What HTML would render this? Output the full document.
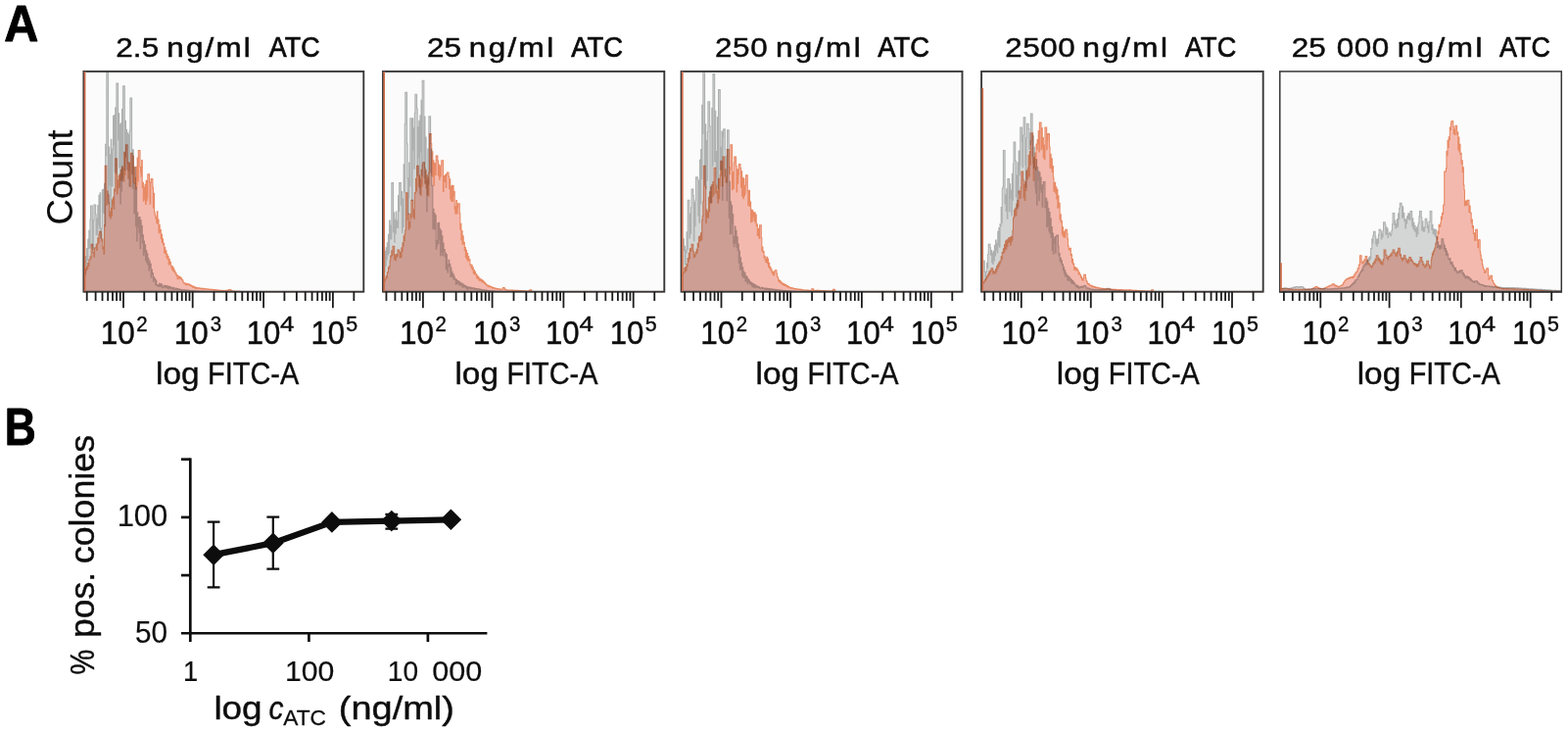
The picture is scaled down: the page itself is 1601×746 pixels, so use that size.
<!DOCTYPE html>
<html lang="en"><head><meta charset="utf-8"><title>Figure</title>
<style>html,body{margin:0;padding:0;background:#fff;}body{width:1601px;height:746px;overflow:hidden;}svg{display:block;}</style>
</head><body>
<svg width="1601" height="746" viewBox="0 0 1601 746" font-family='"Liberation Sans", Arial, Helvetica, sans-serif'>
<rect width="1601" height="746" fill="#fff"/>
<g>
<rect x="85.4" y="72.9" width="285.90" height="224.80" fill="#fbfbfb"/>
<path d="M86.40,297.70V275.6H86.96V280.6H87.52V261.5H88.08V270.4H88.64V253.5H89.20V265.7H89.76V244.2H90.32V253.4H90.88V235.4H91.44V253.0H92.00V224.0H92.56V210.0H93.12V210.0H93.68V210.0H94.24V252.5H94.81V254.8H95.37V224.6H95.93V209.1H96.49V209.1H97.05V209.1H97.61V218.9H98.17V239.7H98.73V223.1H99.29V239.3H99.85V209.5H100.41V229.1H100.97V199.2H101.53V233.0H102.09V196.8H102.65V243.5H103.21V237.9H103.77V233.1H104.33V193.8H104.89V216.8H105.45V193.4H106.01V218.0H106.57V187.4H107.13V231.0H107.69V147.4H108.25V158.9H108.81V73.9H109.37V73.9H109.93V73.9H110.50V208.0H111.06V150.1H111.62V189.2H112.18V157.7H112.74V211.2H113.30V142.2H113.86V173.7H114.42V189.9H114.98V152.2H115.54V118.3H116.10V147.6H116.66V117.6H117.22V175.8H117.78V109.9H118.34V177.0H118.90V85.0H119.46V85.0H120.02V85.0H120.58V142.8H121.14V115.7H121.70V170.8H122.26V127.2H122.82V207.9H123.38V125.9H123.94V195.0H124.50V111.5H125.06V184.8H125.62V87.8H126.19V87.8H126.75V87.8H127.31V173.7H127.87V123.3H128.43V159.0H128.99V132.4H129.55V173.3H130.11V135.8H130.67V165.8H131.23V137.2H131.79V190.2H132.35V133.9H132.91V100.0H133.47V100.0H134.03V100.0H134.59V178.2H135.15V192.1H135.71V152.9H136.27V187.0H136.83V217.7H137.39V193.8H137.95V170.7H138.51V230.8H139.07V190.8H139.63V246.0H140.19V216.9H140.75V231.4H141.31V222.1H141.88V237.1H142.44V221.6H143.00V253.6H143.56V224.7H144.12V241.6H144.68V230.4H145.24V248.0H145.80V239.8H146.36V260.4H146.92V246.1H147.48V257.4H148.04V249.9H148.60V265.6H149.16V255.5H149.72V267.9H150.28V258.8H150.84V270.3H151.40V263.8H151.96V276.0H152.52V266.3H153.08V273.1H153.64V269.3H154.20V283.2H154.76V275.1H155.32V279.5H155.88V278.8H156.44V287.2H157.00V282.8H157.57V285.5H158.13V284.5H158.69V290.6H159.25V286.3H159.81V291.3H160.37V290.5H160.93V291.7H161.49V292.4H162.05V291.3H162.61V289.4H163.17V292.1H163.73V289.7H164.29V292.5H164.85V290.1H165.41V293.0H165.97V293.7H166.53V293.5H167.09V291.2H167.65V293.3H168.21V291.5H168.77V292.5H169.33V291.5H169.89V293.8H170.45V291.9H171.01V294.1H171.57V292.3H172.13V294.7H172.69V292.4H173.26V293.8H173.82V292.7H174.38V293.8H174.94V294.7H175.50V294.4H176.06V293.3H176.62V294.9H177.18V293.6H177.74V295.3H178.30V295.5H178.86V295.0H179.42V294.1H179.98V294.9H180.54V294.5H181.10V295.8H181.66V294.8H182.22V295.5H182.78V295.0H183.34V295.7H183.90V295.2H184.46V296.2H185.02V295.5H185.58V296.4H186.14V296.2H186.70V296.0H187.26V295.8H187.82V296.1H188.38V295.9H188.94V296.4H189.51V296.0H190.07V296.4H190.63V296.1H191.19V296.8H191.75V296.3H192.31V296.6H192.87V296.4H193.43V296.9H193.99V296.5H194.55V297.1H195.11V296.6H195.67V296.9H196.23V296.6H196.79V297.0H197.35V296.7H197.91V297.0H198.47V296.9H199.03V297.1H199.59V296.9H200.15V297.2H200.71V297.0H201.27V297.2H201.83V297.3H202.39V297.1H202.95V297.2H203.51V297.2H204.07V297.2H204.63V297.3H205.20V297.3H205.76V297.3H206.32V297.4H206.88V297.4H207.44V297.4H208.00V297.5H208.56V297.5H209.12V297.5H209.68V297.6H210.24V297.6H210.80V297.6H211.36V297.6H211.92V297.7H212.48V297.7H213.04V297.7H213.60V297.7H214.16V297.7H214.72V297.7H215.28V297.7H215.84V297.7H216.40V297.7H216.96V297.7H217.52V297.7H218.08V297.7H218.64V297.7H219.20V297.7H219.76V297.7H220.32V297.7H220.89V297.7H221.45V297.7H222.01V297.7H222.57V297.7H223.13V297.7H223.69V297.7H224.25V297.7H224.81V297.7H225.37V297.7H225.93V297.7H226.49V297.7H227.05V297.7H227.61V297.7H228.17V297.7H228.73V297.7H229.29V297.7H229.85V297.7H230.41V297.7H230.97V297.7H231.53V297.7H232.09V297.7H232.65V297.7H233.21V297.7H233.77V297.7H234.33V297.7H234.89V297.7H235.45V297.7H236.01V297.7H236.58V297.7H237.14V297.7H237.70V297.7H238.26V297.7H238.82V297.7H239.38V297.7H239.94V297.7H240.50V297.7H241.06V297.7H241.62V297.7H242.18V297.7H242.74V297.7H243.30V297.7H243.86V297.7H244.42V297.7H244.98V297.7H245.54V297.7H246.10V297.7H246.66V297.7H247.22V297.7H247.78V297.7H248.34V297.7H248.90V297.7H249.46V297.7H250.02V297.7H250.58V297.7H251.14V297.7H251.70V297.7H252.27V297.7H252.83V297.7H253.39V297.7H253.95V297.7H254.51V297.7H255.07V297.7H255.63V297.7H256.19V297.7H256.75V297.7H257.31V297.7H257.87V297.7H258.43V297.7H258.99V297.7H259.55V297.7H260.11V297.7H260.67V297.7H261.23V297.7H261.79V297.7H262.35V297.7H262.91V297.7H263.47V297.7H264.03V297.7H264.59V297.7H265.15V297.7H265.71V297.7H266.27V297.7H266.83V297.7H267.39V297.7H267.96V297.7H268.52V297.7H269.08V297.7H269.64V297.7H270.20V297.7H270.76V297.7H271.32V297.7H271.88V297.7H272.44V297.7H273.00V297.7H273.56V297.7H274.12V297.7H274.68V297.7H275.24V297.7H275.80V297.7H276.36V297.7H276.92V297.7H277.48V297.7H278.04V297.7H278.60V297.7H279.16V297.7H279.72V297.7H280.28V297.7H280.84V297.7H281.40V297.7H281.96V297.7H282.52V297.7H283.08V297.7H283.64V297.7H284.21V297.7H284.77V297.7H285.33V297.7H285.89V297.7H286.45V297.7H287.01V297.7H287.57V297.7H288.13V297.7H288.69V297.7H289.25V297.7H289.81V297.7H290.37V297.7H290.93V297.7H291.49V297.7H292.05V297.7H292.61V297.7H293.17V297.7H293.73V297.7H294.29V297.7H294.85V297.7H295.41V297.7H295.97V297.7H296.53V297.7H297.09V297.7H297.65V297.7H298.21V297.7H298.77V297.7H299.33V297.7H299.90V297.7H300.46V297.7H301.02V297.7H301.58V297.7H302.14V297.7H302.70V297.7H303.26V297.7H303.82V297.7H304.38V297.7H304.94V297.7H305.50V297.7H306.06V297.7H306.62V297.7H307.18V297.7H307.74V297.7H308.30V297.7H308.86V297.7H309.42V297.7H309.98V297.7H310.54V297.7H311.10V297.7H311.66V297.7H312.22V297.7H312.78V297.7H313.34V297.7H313.90V297.7H314.46V297.7H315.02V297.7H315.59V297.7H316.15V297.7H316.71V297.7H317.27V297.7H317.83V297.7H318.39V297.7H318.95V297.7H319.51V297.7H320.07V297.7H320.63V297.7H321.19V297.7H321.75V297.7H322.31V297.7H322.87V297.7H323.43V297.7H323.99V297.7H324.55V297.7H325.11V297.7H325.67V297.7H326.23V297.7H326.79V297.7H327.35V297.7H327.91V297.7H328.47V297.7H329.03V297.7H329.59V297.7H330.15V297.7H330.71V297.7H331.28V297.7H331.84V297.7H332.40V297.7H332.96V297.7H333.52V297.7H334.08V297.7H334.64V297.7H335.20V297.7H335.76V297.7H336.32V297.7H336.88V297.7H337.44V297.7H338.00V297.7H338.56V297.7H339.12V297.7H339.68V297.7H340.24V297.7H340.80V297.7H341.36V297.7H341.92V297.7H342.48V297.7H343.04V297.7H343.60V297.7H344.16V297.7H344.72V297.7H345.28V297.7H345.84V297.7H346.40V297.7H346.97V297.7H347.53V297.7H348.09V297.7H348.65V297.7H349.21V297.7H349.77V297.7H350.33V297.7H350.89V297.7H351.45V297.7H352.01V297.7H352.57V297.7H353.13V297.7H353.69V297.7H354.25V297.7H354.81V297.7H355.37V297.7H355.93V297.7H356.49V297.7H357.05V297.7H357.61V297.7H358.17V297.7H358.73V297.7H359.29V297.7H359.85V297.7H360.41V297.7H360.97V297.7H361.53V297.7H362.09V297.7H362.66V297.7H363.22V297.7H363.78V297.7H364.34V297.7H364.90V297.7H365.46V297.7H366.02V297.7H366.58V297.7H367.14V297.7H367.70V297.7H368.26V297.7H368.82V297.7H369.38V297.7H369.94V297.7H370.50V297.70Z" fill="#d3d6d5" stroke="#aeb0b0" stroke-width="1.1" stroke-linejoin="miter"/>
<g style="mix-blend-mode:multiply"><path d="M86.40,297.70V277.6H86.96V279.4H87.52V274.3H88.08V275.8H88.64V271.8H89.20V274.4H89.76V268.5H90.32V271.5H90.88V265.1H91.44V265.2H92.00V261.9H92.56V263.7H93.12V249.4H93.68V249.4H94.24V249.4H94.81V257.9H95.37V257.6H95.93V262.1H96.49V253.1H97.05V252.9H97.61V253.0H98.17V249.3H98.73V255.4H99.29V248.5H99.85V242.8H100.41V247.6H100.97V239.9H101.53V236.3H102.09V236.3H102.65V236.3H103.21V239.3H103.77V246.2H104.33V244.0H104.89V253.9H105.45V251.9H106.01V259.3H106.57V229.6H107.13V169.4H107.69V169.4H108.25V169.4H108.81V209.1H109.37V195.1H109.93V198.8H110.50V198.8H111.06V206.8H111.62V220.8H112.18V216.1H112.74V222.9H113.30V212.4H113.86V219.9H114.42V203.8H114.98V208.4H115.54V201.4H116.10V213.3H116.66V193.0H117.22V195.3H117.78V161.9H118.34V161.9H118.90V161.9H119.46V197.9H120.02V183.8H120.58V191.9H121.14V179.4H121.70V190.6H122.26V177.9H122.82V183.6H123.38V173.3H123.94V184.2H124.50V169.7H125.06V181.1H125.62V171.4H126.19V185.0H126.75V155.4H127.31V178.4H127.87V161.2H128.43V147.9H128.99V147.9H129.55V147.9H130.11V166.7H130.67V182.3H131.23V165.9H131.79V174.5H132.35V166.8H132.91V190.2H133.47V156.3H134.03V156.3H134.59V156.3H135.15V177.1H135.71V159.0H136.27V186.2H136.83V170.2H137.39V187.3H137.95V181.3H138.51V193.3H139.07V170.4H139.63V189.3H140.19V161.1H140.75V184.7H141.31V153.5H141.88V153.5H142.44V153.5H143.00V170.3H143.56V175.7H144.12V179.9H144.68V163.5H145.24V191.4H145.80V186.2H146.36V205.2H146.92V191.2H147.48V203.2H148.04V188.2H148.60V208.4H149.16V184.4H149.72V204.7H150.28V201.1H150.84V177.9H151.40V177.9H151.96V177.9H152.52V186.0H153.08V208.1H153.64V186.5H154.20V182.6H154.76V182.6H155.32V182.6H155.88V191.4H156.44V212.3H157.00V197.2H157.57V216.2H158.13V219.2H158.69V223.0H159.25V221.4H159.81V227.6H160.37V215.7H160.93V228.2H161.49V224.0H162.05V237.7H162.61V229.5H163.17V236.7H163.73V234.6H164.29V243.7H164.85V239.1H165.41V247.5H165.97V243.7H166.53V249.8H167.09V248.4H167.65V258.1H168.21V252.6H168.77V258.8H169.33V255.9H169.89V262.6H170.45V259.3H171.01V264.4H171.57V261.7H172.13V269.9H172.69V264.5H173.26V269.1H173.82V267.2H174.38V271.0H174.94V273.1H175.50V274.9H176.06V271.7H176.62V276.4H177.18V273.8H177.74V277.8H178.30V276.3H178.86V279.1H179.42V278.5H179.98V281.5H180.54V280.6H181.10V284.8H181.66V281.9H182.22V283.8H182.78V282.3H183.34V284.6H183.90V282.9H184.46V284.3H185.02V283.7H185.58V285.8H186.14V285.5H186.70V287.3H187.26V288.6H187.82V289.0H188.38V288.8H188.94V289.9H189.51V289.2H190.07V290.8H190.63V289.5H191.19V290.5H191.75V289.7H192.31V290.8H192.87V290.1H193.43V291.3H193.99V290.6H194.55V291.6H195.11V291.3H195.67V292.3H196.23V291.9H196.79V293.1H197.35V292.3H197.91V293.5H198.47V292.9H199.03V294.0H199.59V293.4H200.15V294.4H200.71V293.6H201.27V294.0H201.83V293.8H202.39V294.5H202.95V293.9H203.51V294.3H204.07V294.1H204.63V294.6H205.20V294.2H205.76V294.7H206.32V294.3H206.88V294.9H207.44V294.4H208.00V295.0H208.56V294.6H209.12V295.0H209.68V294.7H210.24V295.2H210.80V294.9H211.36V295.2H211.92V295.0H212.48V295.5H213.04V295.0H213.60V295.4H214.16V295.2H214.72V295.7H215.28V295.2H215.84V295.5H216.40V295.4H216.96V295.6H217.52V295.5H218.08V295.9H218.64V295.6H219.20V296.1H219.76V295.7H220.32V295.9H220.89V295.8H221.45V296.1H222.01V296.0H222.57V296.2H223.13V296.0H223.69V296.3H224.25V296.2H224.81V296.5H225.37V296.5H225.93V296.6H226.49V296.4H227.05V296.7H227.61V296.5H228.17V296.6H228.73V296.6H229.29V296.8H229.85V296.7H230.41V296.7H230.97V296.4H231.53V296.6H232.09V296.2H232.65V296.3H233.21V295.9H233.77V295.6H234.33V295.6H234.89V295.6H235.45V296.1H236.01V296.6H236.58V296.7H237.14V297.1H237.70V297.1H238.26V297.1H238.82V297.1H239.38V297.2H239.94V297.2H240.50V297.2H241.06V297.3H241.62V297.3H242.18V297.3H242.74V297.3H243.30V297.4H243.86V297.4H244.42V297.4H244.98V297.5H245.54V297.5H246.10V297.5H246.66V297.5H247.22V297.6H247.78V297.6H248.34V297.6H248.90V297.6H249.46V297.7H250.02V297.7H250.58V297.7H251.14V297.7H251.70V297.7H252.27V297.7H252.83V297.7H253.39V297.7H253.95V297.7H254.51V297.7H255.07V297.7H255.63V297.7H256.19V297.7H256.75V297.7H257.31V297.7H257.87V297.7H258.43V297.7H258.99V297.7H259.55V297.7H260.11V297.7H260.67V297.7H261.23V297.7H261.79V297.7H262.35V297.7H262.91V297.7H263.47V297.7H264.03V297.7H264.59V297.7H265.15V297.7H265.71V297.7H266.27V297.7H266.83V297.7H267.39V297.7H267.96V297.7H268.52V297.7H269.08V297.7H269.64V297.7H270.20V297.7H270.76V297.7H271.32V297.7H271.88V297.7H272.44V297.7H273.00V297.7H273.56V297.7H274.12V297.7H274.68V297.7H275.24V297.7H275.80V297.7H276.36V297.7H276.92V297.7H277.48V297.7H278.04V297.7H278.60V297.7H279.16V297.7H279.72V297.7H280.28V297.7H280.84V297.7H281.40V297.7H281.96V297.7H282.52V297.7H283.08V297.7H283.64V297.7H284.21V297.7H284.77V297.7H285.33V297.7H285.89V297.7H286.45V297.7H287.01V297.7H287.57V297.7H288.13V297.7H288.69V297.7H289.25V297.7H289.81V297.7H290.37V297.7H290.93V297.7H291.49V297.7H292.05V297.7H292.61V297.7H293.17V297.7H293.73V297.7H294.29V297.7H294.85V297.7H295.41V297.7H295.97V297.7H296.53V297.7H297.09V297.7H297.65V297.7H298.21V297.7H298.77V297.7H299.33V297.7H299.90V297.7H300.46V297.7H301.02V297.7H301.58V297.7H302.14V297.7H302.70V297.7H303.26V297.7H303.82V297.7H304.38V297.7H304.94V297.7H305.50V297.7H306.06V297.7H306.62V297.7H307.18V297.7H307.74V297.7H308.30V297.7H308.86V297.7H309.42V297.7H309.98V297.7H310.54V297.7H311.10V297.7H311.66V297.7H312.22V297.7H312.78V297.7H313.34V297.7H313.90V297.7H314.46V297.7H315.02V297.7H315.59V297.7H316.15V297.7H316.71V297.7H317.27V297.7H317.83V297.7H318.39V297.7H318.95V297.7H319.51V297.7H320.07V297.7H320.63V297.7H321.19V297.7H321.75V297.7H322.31V297.7H322.87V297.7H323.43V297.7H323.99V297.7H324.55V297.7H325.11V297.7H325.67V297.7H326.23V297.7H326.79V297.7H327.35V297.7H327.91V297.7H328.47V297.7H329.03V297.7H329.59V297.7H330.15V297.7H330.71V297.7H331.28V297.7H331.84V297.7H332.40V297.7H332.96V297.7H333.52V297.7H334.08V297.7H334.64V297.7H335.20V297.7H335.76V297.7H336.32V297.7H336.88V297.7H337.44V297.7H338.00V297.7H338.56V297.7H339.12V297.7H339.68V297.7H340.24V297.7H340.80V297.7H341.36V297.7H341.92V297.7H342.48V297.7H343.04V297.7H343.60V297.7H344.16V297.7H344.72V297.7H345.28V297.7H345.84V297.7H346.40V297.7H346.97V297.7H347.53V297.7H348.09V297.7H348.65V297.7H349.21V297.7H349.77V297.7H350.33V297.7H350.89V297.7H351.45V297.7H352.01V297.7H352.57V297.7H353.13V297.7H353.69V297.7H354.25V297.7H354.81V297.7H355.37V297.7H355.93V297.7H356.49V297.7H357.05V297.7H357.61V297.7H358.17V297.7H358.73V297.7H359.29V297.7H359.85V297.7H360.41V297.7H360.97V297.7H361.53V297.7H362.09V297.7H362.66V297.7H363.22V297.7H363.78V297.7H364.34V297.7H364.90V297.7H365.46V297.7H366.02V297.7H366.58V297.7H367.14V297.7H367.70V297.7H368.26V297.7H368.82V297.7H369.38V297.7H369.94V297.7H370.50V297.70Z" fill="#f8bcb1" stroke="#ec8c66" stroke-width="1.1" stroke-linejoin="miter"/></g>
<rect x="85.4" y="72.9" width="285.90" height="224.80" fill="none" stroke="#383838" stroke-width="1.9"/>
<line x1="86.60000000000001" y1="73.0" x2="86.60000000000001" y2="297.2" stroke="#cf6d49" stroke-width="1.7"/>
<path d="M126.00,297.7v16.6M196.70,297.7v16.6M269.10,297.7v16.6M339.90,297.7v16.6M88.72,297.7v9.2M97.63,297.7v9.2M104.54,297.7v9.2M110.18,297.7v9.2M114.96,297.7v9.2M119.09,297.7v9.2M122.74,297.7v9.2M147.28,297.7v9.2M159.73,297.7v9.2M168.57,297.7v9.2M175.42,297.7v9.2M181.02,297.7v9.2M185.75,297.7v9.2M189.85,297.7v9.2M193.46,297.7v9.2M218.49,297.7v9.2M231.24,297.7v9.2M240.29,297.7v9.2M247.31,297.7v9.2M253.04,297.7v9.2M257.89,297.7v9.2M262.08,297.7v9.2M265.79,297.7v9.2M290.41,297.7v9.2M302.88,297.7v9.2M311.73,297.7v9.2M318.59,297.7v9.2M324.19,297.7v9.2M328.93,297.7v9.2M333.04,297.7v9.2M336.66,297.7v9.2M361.36,297.7v9.2" stroke="#1c1c1c" stroke-width="1.8" fill="none"/>
</g>
<g>
<rect x="391.0" y="72.9" width="287.30" height="224.80" fill="#fbfbfb"/>
<path d="M392.00,297.70V276.6H392.56V277.2H393.12V256.3H393.68V271.4H394.24V252.8H394.80V264.8H395.36V247.7H395.92V260.0H396.48V239.2H397.04V258.5H397.60V225.0H398.16V230.0H398.72V243.7H399.28V243.9H399.84V186.6H400.40V186.6H400.96V186.6H401.52V236.9H402.08V217.0H402.64V247.3H403.20V224.4H403.76V238.2H404.32V216.0H404.88V225.2H405.44V231.9H406.00V232.5H406.55V199.6H407.11V215.4H407.67V186.6H408.23V186.6H408.79V186.6H409.35V209.1H409.91V195.5H410.47V237.4H411.03V202.8H411.59V231.6H412.15V167.8H412.71V196.3H413.27V126.6H413.83V94.4H414.39V94.4H414.95V94.4H415.51V146.9H416.07V181.9H416.63V218.4H417.19V201.5H417.75V166.1H418.31V189.9H418.87V120.7H419.43V120.7H419.99V120.7H420.55V204.5H421.11V120.9H421.67V152.9H422.23V130.7H422.79V172.2H423.35V115.5H423.91V96.3H424.47V96.3H425.03V96.3H425.59V110.7H426.15V179.2H426.71V129.5H427.27V160.4H427.83V123.3H428.39V197.8H428.95V117.9H429.51V155.2H430.07V102.4H430.63V178.9H431.19V82.2H431.75V82.2H432.31V82.2H432.87V181.3H433.43V119.1H433.99V186.7H434.55V140.0H435.10V185.0H435.66V216.0H436.22V198.5H436.78V152.1H437.34V188.0H437.90V118.8H438.46V118.8H439.02V118.8H439.58V175.9H440.14V152.3H440.70V189.5H441.26V189.3H441.82V233.2H442.38V213.2H442.94V233.9H443.50V217.6H444.06V233.7H444.62V219.9H445.18V254.2H445.74V251.1H446.30V245.5H446.86V227.9H447.42V248.7H447.98V227.3H448.54V244.0H449.10V233.6H449.66V260.8H450.22V235.5H450.78V257.3H451.34V240.7H451.90V260.6H452.46V248.1H453.02V256.5H453.58V254.5H454.14V261.9H454.70V258.0H455.26V274.9H455.82V259.8H456.38V271.1H456.94V277.9H457.50V270.1H458.06V265.2H458.62V271.9H459.18V269.2H459.74V282.5H460.30V273.0H460.86V282.3H461.42V277.4H461.98V282.6H462.54V279.5H463.10V285.2H463.65V282.1H464.21V285.2H464.77V284.5H465.33V290.1H465.89V285.4H466.45V289.4H467.01V286.6H467.57V288.9H468.13V287.0H468.69V291.2H469.25V287.7H469.81V290.7H470.37V288.9H470.93V291.0H471.49V289.4H472.05V293.3H472.61V290.1H473.17V292.6H473.73V291.0H474.29V292.7H474.85V291.6H475.41V293.7H475.97V292.4H476.53V294.9H477.09V292.7H477.65V295.1H478.21V292.9H478.77V293.8H479.33V293.3H479.89V294.5H480.45V293.3H481.01V295.0H481.57V293.7H482.13V294.8H482.69V293.8H483.25V294.5H483.81V294.1H484.37V295.5H484.93V294.4H485.49V295.3H486.05V294.5H486.61V295.5H487.17V294.8H487.73V295.3H488.29V294.9H488.85V296.0H489.41V295.1H489.97V296.0H490.53V295.3H491.09V296.3H491.65V295.5H492.20V296.0H492.76V296.2H493.32V296.4H493.88V295.9H494.44V296.7H495.00V296.0H495.56V296.5H496.12V296.1H496.68V296.7H497.24V296.3H497.80V297.0H498.36V296.5H498.92V296.7H499.48V297.0H500.04V296.8H500.60V296.7H501.16V297.1H501.72V296.8H502.28V297.0H502.84V296.9H503.40V297.1H503.96V297.0H504.52V297.3H505.08V297.1H505.64V297.2H506.20V297.2H506.76V297.3H507.32V297.3H507.88V297.3H508.44V297.3H509.00V297.4H509.56V297.4H510.12V297.4H510.68V297.4H511.24V297.4H511.80V297.5H512.36V297.5H512.92V297.5H513.48V297.5H514.04V297.6H514.60V297.6H515.16V297.6H515.72V297.6H516.28V297.6H516.84V297.7H517.40V297.7H517.96V297.7H518.52V297.7H519.08V297.7H519.64V297.7H520.20V297.7H520.75V297.7H521.31V297.7H521.87V297.7H522.43V297.7H522.99V297.7H523.55V297.7H524.11V297.7H524.67V297.7H525.23V297.7H525.79V297.7H526.35V297.7H526.91V297.7H527.47V297.7H528.03V297.7H528.59V297.7H529.15V297.7H529.71V297.7H530.27V297.7H530.83V297.7H531.39V297.7H531.95V297.7H532.51V297.7H533.07V297.7H533.63V297.7H534.19V297.7H534.75V297.7H535.31V297.7H535.87V297.7H536.43V297.7H536.99V297.7H537.55V297.7H538.11V297.7H538.67V297.7H539.23V297.7H539.79V297.7H540.35V297.7H540.91V297.7H541.47V297.7H542.03V297.7H542.59V297.7H543.15V297.7H543.71V297.7H544.27V297.7H544.83V297.7H545.39V297.7H545.95V297.7H546.51V297.7H547.07V297.7H547.63V297.7H548.19V297.7H548.75V297.7H549.30V297.7H549.86V297.7H550.42V297.7H550.98V297.7H551.54V297.7H552.10V297.7H552.66V297.7H553.22V297.7H553.78V297.7H554.34V297.7H554.90V297.7H555.46V297.7H556.02V297.7H556.58V297.7H557.14V297.7H557.70V297.7H558.26V297.7H558.82V297.7H559.38V297.7H559.94V297.7H560.50V297.7H561.06V297.7H561.62V297.7H562.18V297.7H562.74V297.7H563.30V297.7H563.86V297.7H564.42V297.7H564.98V297.7H565.54V297.7H566.10V297.7H566.66V297.7H567.22V297.7H567.78V297.7H568.34V297.7H568.90V297.7H569.46V297.7H570.02V297.7H570.58V297.7H571.14V297.7H571.70V297.7H572.26V297.7H572.82V297.7H573.38V297.7H573.94V297.7H574.50V297.7H575.06V297.7H575.62V297.7H576.18V297.7H576.74V297.7H577.30V297.7H577.85V297.7H578.41V297.7H578.97V297.7H579.53V297.7H580.09V297.7H580.65V297.7H581.21V297.7H581.77V297.7H582.33V297.7H582.89V297.7H583.45V297.7H584.01V297.7H584.57V297.7H585.13V297.7H585.69V297.7H586.25V297.7H586.81V297.7H587.37V297.7H587.93V297.7H588.49V297.7H589.05V297.7H589.61V297.7H590.17V297.7H590.73V297.7H591.29V297.7H591.85V297.7H592.41V297.7H592.97V297.7H593.53V297.7H594.09V297.7H594.65V297.7H595.21V297.7H595.77V297.7H596.33V297.7H596.89V297.7H597.45V297.7H598.01V297.7H598.57V297.7H599.13V297.7H599.69V297.7H600.25V297.7H600.81V297.7H601.37V297.7H601.93V297.7H602.49V297.7H603.05V297.7H603.61V297.7H604.17V297.7H604.73V297.7H605.29V297.7H605.85V297.7H606.40V297.7H606.96V297.7H607.52V297.7H608.08V297.7H608.64V297.7H609.20V297.7H609.76V297.7H610.32V297.7H610.88V297.7H611.44V297.7H612.00V297.7H612.56V297.7H613.12V297.7H613.68V297.7H614.24V297.7H614.80V297.7H615.36V297.7H615.92V297.7H616.48V297.7H617.04V297.7H617.60V297.7H618.16V297.7H618.72V297.7H619.28V297.7H619.84V297.7H620.40V297.7H620.96V297.7H621.52V297.7H622.08V297.7H622.64V297.7H623.20V297.7H623.76V297.7H624.32V297.7H624.88V297.7H625.44V297.7H626.00V297.7H626.56V297.7H627.12V297.7H627.68V297.7H628.24V297.7H628.80V297.7H629.36V297.7H629.92V297.7H630.48V297.7H631.04V297.7H631.60V297.7H632.16V297.7H632.72V297.7H633.28V297.7H633.84V297.7H634.40V297.7H634.95V297.7H635.51V297.7H636.07V297.7H636.63V297.7H637.19V297.7H637.75V297.7H638.31V297.7H638.87V297.7H639.43V297.7H639.99V297.7H640.55V297.7H641.11V297.7H641.67V297.7H642.23V297.7H642.79V297.7H643.35V297.7H643.91V297.7H644.47V297.7H645.03V297.7H645.59V297.7H646.15V297.7H646.71V297.7H647.27V297.7H647.83V297.7H648.39V297.7H648.95V297.7H649.51V297.7H650.07V297.7H650.63V297.7H651.19V297.7H651.75V297.7H652.31V297.7H652.87V297.7H653.43V297.7H653.99V297.7H654.55V297.7H655.11V297.7H655.67V297.7H656.23V297.7H656.79V297.7H657.35V297.7H657.91V297.7H658.47V297.7H659.03V297.7H659.59V297.7H660.15V297.7H660.71V297.7H661.27V297.7H661.83V297.7H662.39V297.7H662.95V297.7H663.50V297.7H664.06V297.7H664.62V297.7H665.18V297.7H665.74V297.7H666.30V297.7H666.86V297.7H667.42V297.7H667.98V297.7H668.54V297.7H669.10V297.7H669.66V297.7H670.22V297.7H670.78V297.7H671.34V297.7H671.90V297.7H672.46V297.7H673.02V297.7H673.58V297.7H674.14V297.7H674.70V297.7H675.26V297.7H675.82V297.7H676.38V297.7H676.94V297.7H677.50V297.70Z" fill="#d3d6d5" stroke="#aeb0b0" stroke-width="1.1" stroke-linejoin="miter"/>
<g style="mix-blend-mode:multiply"><path d="M392.00,297.70V288.9H392.56V286.9H393.12V285.8H393.68V284.3H394.24V281.7H394.80V283.5H395.36V278.3H395.92V277.6H396.48V272.8H397.04V274.1H397.60V271.7H398.16V266.0H398.72V261.0H399.28V262.0H399.84V255.8H400.40V260.4H400.96V251.3H401.52V251.3H402.08V251.3H402.64V264.8H403.20V260.2H403.76V265.8H404.32V259.6H404.88V262.1H405.44V261.4H406.00V255.0H406.55V255.0H407.11V255.0H407.67V257.0H408.23V263.0H408.79V257.6H409.35V262.5H409.91V252.7H410.47V256.6H411.03V247.9H411.59V251.3H412.15V240.7H412.71V245.8H413.27V238.6H413.83V234.7H414.39V196.9H414.95V196.9H415.51V196.9H416.07V224.3H416.63V218.3H417.19V234.0H417.75V226.6H418.31V231.9H418.87V218.4H419.43V222.1H419.99V204.4H420.55V204.4H421.11V204.4H421.67V221.1H422.23V213.9H422.79V223.2H423.35V196.8H423.91V196.6H424.47V182.2H425.03V194.9H425.59V169.4H426.15V169.4H426.71V169.4H427.27V189.9H427.83V179.1H428.39V191.8H428.95V183.1H429.51V199.1H430.07V173.2H430.63V189.9H431.19V168.4H431.75V165.7H432.31V165.7H432.87V165.7H433.43V171.6H433.99V187.6H434.55V173.9H435.10V191.9H435.66V179.1H436.22V198.9H436.78V181.9H437.34V200.3H437.90V176.6H438.46V136.6H439.02V136.6H439.58V136.6H440.14V146.6H440.70V178.9H441.26V154.8H441.82V180.3H442.38V163.7H442.94V189.3H443.50V166.6H444.06V173.9H444.62V178.4H445.18V159.1H445.74V159.1H446.30V159.1H446.86V164.1H447.42V179.3H447.98V168.1H448.54V183.2H449.10V169.8H449.66V179.9H450.22V168.5H450.78V163.8H451.34V163.8H451.90V163.8H452.46V195.5H453.02V184.6H453.58V179.5H454.14V185.5H454.70V178.1H455.26V191.4H455.82V178.5H456.38V176.0H456.94V176.0H457.50V176.0H458.06V180.1H458.62V192.8H459.18V182.9H459.74V203.0H460.30V190.1H460.86V205.5H461.42V189.3H461.98V205.1H462.54V189.5H463.10V199.6H463.65V195.5H464.21V213.3H464.77V218.0H465.33V210.9H465.89V204.5H466.45V217.9H467.01V212.3H467.57V207.9H468.13V207.9H468.69V207.9H469.25V217.8H469.81V234.1H470.37V228.3H470.93V244.7H471.49V235.5H472.05V249.1H472.61V240.7H473.17V249.2H473.73V247.2H474.29V255.8H474.85V252.5H475.41V262.5H475.97V255.3H476.53V264.6H477.09V258.6H477.65V266.1H478.21V261.7H478.77V265.8H479.33V264.8H479.89V270.5H480.45V270.1H481.01V273.1H481.57V270.6H482.13V275.3H482.69V272.8H483.25V278.8H483.81V275.5H484.37V280.1H484.93V277.3H485.49V280.2H486.05V279.9H486.61V283.7H487.17V281.1H487.73V284.4H488.29V282.6H488.85V286.0H489.41V284.0H489.97V286.7H490.53V284.8H491.09V286.5H491.65V285.5H492.20V288.3H492.76V286.4H493.32V288.0H493.88V287.4H494.44V289.0H495.00V288.5H495.56V290.1H496.12V289.7H496.68V290.9H497.24V290.8H497.80V292.3H498.36V291.2H498.92V292.8H499.48V291.8H500.04V292.6H500.60V292.4H501.16V293.1H501.72V292.9H502.28V293.9H502.84V293.2H503.40V294.2H503.96V293.6H504.52V294.2H505.08V294.0H505.64V294.7H506.20V294.3H506.76V294.7H507.32V294.6H507.88V295.1H508.44V294.7H509.00V295.0H509.56V294.8H510.12V295.3H510.68V295.0H511.24V295.4H511.80V295.2H512.36V295.3H512.92V295.1H513.48V293.5H514.04V293.5H514.60V293.5H515.16V294.6H515.72V295.6H516.28V295.8H516.84V295.9H517.40V295.7H517.96V296.0H518.52V296.1H519.08V296.2H519.64V296.0H520.20V296.3H520.75V296.0H521.31V296.3H521.87V296.1H522.43V296.2H522.99V296.1H523.55V296.4H524.11V296.2H524.67V296.4H525.23V296.2H525.79V296.4H526.35V296.3H526.91V296.5H527.47V296.4H528.03V296.5H528.59V296.4H529.15V296.6H529.71V296.5H530.27V296.7H530.83V296.5H531.39V296.7H531.95V296.6H532.51V296.9H533.07V296.7H533.63V296.8H534.19V296.8H534.75V296.9H535.31V296.8H535.87V296.9H536.43V296.9H536.99V297.1H537.55V297.0H538.11V297.1H538.67V297.0H539.23V297.1H539.79V296.9H540.35V296.7H540.91V295.8H541.47V295.8H542.03V295.8H542.59V297.0H543.15V297.3H543.71V297.5H544.27V297.5H544.83V297.5H545.39V297.5H545.95V297.5H546.51V297.5H547.07V297.5H547.63V297.5H548.19V297.5H548.75V297.5H549.30V297.6H549.86V297.6H550.42V297.6H550.98V297.6H551.54V297.6H552.10V297.6H552.66V297.6H553.22V297.6H553.78V297.6H554.34V297.7H554.90V297.7H555.46V297.7H556.02V297.7H556.58V297.7H557.14V297.7H557.70V297.7H558.26V297.7H558.82V297.7H559.38V297.7H559.94V297.7H560.50V297.7H561.06V297.7H561.62V297.7H562.18V297.7H562.74V297.7H563.30V297.7H563.86V297.7H564.42V297.7H564.98V297.7H565.54V297.7H566.10V297.7H566.66V297.7H567.22V297.7H567.78V297.7H568.34V297.7H568.90V297.7H569.46V297.7H570.02V297.7H570.58V297.7H571.14V297.7H571.70V297.7H572.26V297.7H572.82V297.7H573.38V297.7H573.94V297.7H574.50V297.7H575.06V297.7H575.62V297.7H576.18V297.7H576.74V297.7H577.30V297.7H577.85V297.7H578.41V297.7H578.97V297.7H579.53V297.7H580.09V297.7H580.65V297.7H581.21V297.7H581.77V297.7H582.33V297.7H582.89V297.7H583.45V297.7H584.01V297.7H584.57V297.7H585.13V297.7H585.69V297.7H586.25V297.7H586.81V297.7H587.37V297.7H587.93V297.7H588.49V297.7H589.05V297.7H589.61V297.7H590.17V297.7H590.73V297.7H591.29V297.7H591.85V297.7H592.41V297.7H592.97V297.7H593.53V297.7H594.09V297.7H594.65V297.7H595.21V297.7H595.77V297.7H596.33V297.7H596.89V297.7H597.45V297.7H598.01V297.7H598.57V297.7H599.13V297.7H599.69V297.7H600.25V297.7H600.81V297.7H601.37V297.7H601.93V297.7H602.49V297.7H603.05V297.7H603.61V297.7H604.17V297.7H604.73V297.7H605.29V297.7H605.85V297.7H606.40V297.7H606.96V297.7H607.52V297.7H608.08V297.7H608.64V297.7H609.20V297.7H609.76V297.7H610.32V297.7H610.88V297.7H611.44V297.7H612.00V297.7H612.56V297.7H613.12V297.7H613.68V297.7H614.24V297.7H614.80V297.7H615.36V297.7H615.92V297.7H616.48V297.7H617.04V297.7H617.60V297.7H618.16V297.7H618.72V297.7H619.28V297.7H619.84V297.7H620.40V297.7H620.96V297.7H621.52V297.7H622.08V297.7H622.64V297.7H623.20V297.7H623.76V297.7H624.32V297.7H624.88V297.7H625.44V297.7H626.00V297.7H626.56V297.7H627.12V297.7H627.68V297.7H628.24V297.7H628.80V297.7H629.36V297.7H629.92V297.7H630.48V297.7H631.04V297.7H631.60V297.7H632.16V297.7H632.72V297.7H633.28V297.7H633.84V297.7H634.40V297.7H634.95V297.7H635.51V297.7H636.07V297.7H636.63V297.7H637.19V297.7H637.75V297.7H638.31V297.7H638.87V297.7H639.43V297.7H639.99V297.7H640.55V297.7H641.11V297.7H641.67V297.7H642.23V297.7H642.79V297.7H643.35V297.7H643.91V297.7H644.47V297.7H645.03V297.7H645.59V297.7H646.15V297.7H646.71V297.7H647.27V297.7H647.83V297.7H648.39V297.7H648.95V297.7H649.51V297.7H650.07V297.7H650.63V297.7H651.19V297.7H651.75V297.7H652.31V297.7H652.87V297.7H653.43V297.7H653.99V297.7H654.55V297.7H655.11V297.7H655.67V297.7H656.23V297.7H656.79V297.7H657.35V297.7H657.91V297.7H658.47V297.7H659.03V297.7H659.59V297.7H660.15V297.7H660.71V297.7H661.27V297.7H661.83V297.7H662.39V297.7H662.95V297.7H663.50V297.7H664.06V297.7H664.62V297.7H665.18V297.7H665.74V297.7H666.30V297.7H666.86V297.7H667.42V297.7H667.98V297.7H668.54V297.7H669.10V297.7H669.66V297.7H670.22V297.7H670.78V297.7H671.34V297.7H671.90V297.7H672.46V297.7H673.02V297.7H673.58V297.7H674.14V297.7H674.70V297.7H675.26V297.7H675.82V297.7H676.38V297.7H676.94V297.7H677.50V297.70Z" fill="#f8bcb1" stroke="#ec8c66" stroke-width="1.1" stroke-linejoin="miter"/></g>
<rect x="391.0" y="72.9" width="287.30" height="224.80" fill="none" stroke="#383838" stroke-width="1.9"/>
<line x1="392.2" y1="73.0" x2="392.2" y2="297.2" stroke="#cf6d49" stroke-width="1.7"/>
<path d="M431.90,297.7v16.6M502.60,297.7v16.6M575.40,297.7v16.6M646.70,297.7v16.6M394.46,297.7v9.2M403.41,297.7v9.2M410.35,297.7v9.2M416.02,297.7v9.2M420.81,297.7v9.2M424.96,297.7v9.2M428.62,297.7v9.2M453.18,297.7v9.2M465.63,297.7v9.2M474.47,297.7v9.2M481.32,297.7v9.2M486.92,297.7v9.2M491.65,297.7v9.2M495.75,297.7v9.2M499.36,297.7v9.2M524.51,297.7v9.2M537.33,297.7v9.2M546.43,297.7v9.2M553.49,297.7v9.2M559.25,297.7v9.2M564.12,297.7v9.2M568.34,297.7v9.2M572.07,297.7v9.2M596.86,297.7v9.2M609.42,297.7v9.2M618.33,297.7v9.2M625.24,297.7v9.2M630.88,297.7v9.2M635.66,297.7v9.2M639.79,297.7v9.2M643.44,297.7v9.2M668.25,297.7v9.2" stroke="#1c1c1c" stroke-width="1.8" fill="none"/>
</g>
<g>
<rect x="695.6" y="72.9" width="286.90" height="224.80" fill="#fbfbfb"/>
<path d="M696.60,297.70V243.8H697.16V243.8H697.72V243.8H698.28V255.8H698.84V251.3H699.40V269.4H699.96V255.0H700.52V258.0H701.08V236.8H701.64V254.2H702.20V204.4H702.76V204.4H703.32V204.4H703.88V243.1H704.44V218.0H705.00V238.8H705.56V211.9H706.12V193.1H706.68V193.1H707.24V193.1H707.80V199.6H708.36V245.9H708.92V206.5H709.48V230.6H710.04V204.4H710.60V180.7H711.16V180.7H711.72V180.7H712.28V183.1H712.84V219.9H713.40V184.2H713.96V227.2H714.52V163.0H715.08V208.3H715.64V152.5H716.20V182.7H716.76V107.2H717.32V136.4H717.88V74.7H718.44V74.7H719.00V74.7H719.56V189.0H720.12V126.9H720.69V192.7H721.25V143.2H721.81V184.2H722.37V134.6H722.93V103.8H723.49V103.8H724.05V103.8H724.61V128.9H725.17V207.0H725.73V207.3H726.29V190.7H726.85V110.2H727.41V169.3H727.97V75.6H728.53V75.6H729.09V75.6H729.65V165.0H730.21V113.2H730.77V154.6H731.33V180.8H731.89V188.3H732.45V119.6H733.01V192.5H733.57V91.6H734.13V91.6H734.69V91.6H735.25V173.3H735.81V150.2H736.37V173.0H736.93V134.1H737.49V204.1H738.05V139.9H738.61V131.9H739.17V131.9H739.73V131.9H740.29V152.4H740.85V179.5H741.41V159.3H741.97V204.7H742.53V132.9H743.09V132.9H743.65V132.9H744.21V222.4H744.77V185.4H745.33V238.6H745.89V205.8H746.45V238.5H747.01V209.6H747.57V228.3H748.13V218.5H748.69V248.0H749.25V251.7H749.81V241.3H750.37V231.0H750.93V248.2H751.49V235.4H752.05V252.4H752.61V241.7H753.17V255.4H753.73V249.0H754.29V268.2H754.85V256.1H755.41V275.1H755.97V262.7H756.53V275.0H757.09V268.4H757.65V281.8H758.21V272.8H758.77V283.2H759.33V277.0H759.89V283.4H760.45V278.5H761.01V286.8H761.57V281.5H762.13V287.7H762.69V282.9H763.25V289.7H763.81V284.7H764.37V287.5H764.93V286.0H765.49V289.7H766.05V287.5H766.61V290.1H767.17V288.6H767.73V292.4H768.30V289.3H768.86V293.0H769.42V289.8H769.98V293.3H770.54V290.6H771.10V293.7H771.66V291.3H772.22V292.9H772.78V292.0H773.34V293.5H773.90V292.2H774.46V293.6H775.02V292.7H775.58V294.3H776.14V294.1H776.70V294.1H777.26V293.4H777.82V294.5H778.38V293.6H778.94V294.3H779.50V293.9H780.06V294.8H780.62V295.2H781.18V295.0H781.74V294.1H782.30V295.4H782.86V294.3H783.42V295.2H783.98V294.5H784.54V295.1H785.10V294.6H785.66V296.0H786.22V294.8H786.78V296.0H787.34V294.9H787.90V295.9H788.46V295.0H789.02V295.8H789.58V295.2H790.14V296.2H790.70V295.4H791.26V296.2H791.82V295.6H792.38V296.4H792.94V295.6H793.50V296.3H794.06V296.1H794.62V296.1H795.18V295.9H795.74V296.4H796.30V296.1H796.86V296.4H797.42V296.2H797.98V296.7H798.54V296.4H799.10V296.9H799.66V297.0H800.22V296.9H800.78V296.5H801.34V296.8H801.90V296.6H802.46V297.0H803.02V297.0H803.58V297.0H804.14V296.9H804.70V297.2H805.26V296.9H805.82V297.2H806.38V297.0H806.94V297.3H807.50V297.1H808.06V297.1H808.62V297.2H809.18V297.2H809.74V297.3H810.30V297.3H810.86V297.4H811.42V297.4H811.98V297.4H812.54V297.7H813.10V297.7H813.66V297.7H814.22V297.7H814.78V297.7H815.34V297.7H815.91V297.7H816.47V297.7H817.03V297.7H817.59V297.7H818.15V297.7H818.71V297.7H819.27V297.7H819.83V297.7H820.39V297.7H820.95V297.7H821.51V297.7H822.07V297.7H822.63V297.7H823.19V297.7H823.75V297.7H824.31V297.7H824.87V297.7H825.43V297.7H825.99V297.7H826.55V297.7H827.11V297.7H827.67V297.7H828.23V297.7H828.79V297.7H829.35V297.7H829.91V297.7H830.47V297.7H831.03V297.7H831.59V297.7H832.15V297.7H832.71V297.7H833.27V297.7H833.83V297.7H834.39V297.7H834.95V297.7H835.51V297.7H836.07V297.7H836.63V297.7H837.19V297.7H837.75V297.7H838.31V297.7H838.87V297.7H839.43V297.7H839.99V297.7H840.55V297.7H841.11V297.7H841.67V297.7H842.23V297.7H842.79V297.7H843.35V297.7H843.91V297.7H844.47V297.7H845.03V297.7H845.59V297.7H846.15V297.7H846.71V297.7H847.27V297.7H847.83V297.7H848.39V297.7H848.95V297.7H849.51V297.7H850.07V297.7H850.63V297.7H851.19V297.7H851.75V297.7H852.31V297.7H852.87V297.7H853.43V297.7H853.99V297.7H854.55V297.7H855.11V297.7H855.67V297.7H856.23V297.7H856.79V297.7H857.35V297.7H857.91V297.7H858.47V297.7H859.03V297.7H859.59V297.7H860.15V297.7H860.71V297.7H861.27V297.7H861.83V297.7H862.39V297.7H862.96V297.7H863.52V297.7H864.08V297.7H864.64V297.7H865.20V297.7H865.76V297.7H866.32V297.7H866.88V297.7H867.44V297.7H868.00V297.7H868.56V297.7H869.12V297.7H869.68V297.7H870.24V297.7H870.80V297.7H871.36V297.7H871.92V297.7H872.48V297.7H873.04V297.7H873.60V297.7H874.16V297.7H874.72V297.7H875.28V297.7H875.84V297.7H876.40V297.7H876.96V297.7H877.52V297.7H878.08V297.7H878.64V297.7H879.20V297.7H879.76V297.7H880.32V297.7H880.88V297.7H881.44V297.7H882.00V297.7H882.56V297.7H883.12V297.7H883.68V297.7H884.24V297.7H884.80V297.7H885.36V297.7H885.92V297.7H886.48V297.7H887.04V297.7H887.60V297.7H888.16V297.7H888.72V297.7H889.28V297.7H889.84V297.7H890.40V297.7H890.96V297.7H891.52V297.7H892.08V297.7H892.64V297.7H893.20V297.7H893.76V297.7H894.32V297.7H894.88V297.7H895.44V297.7H896.00V297.7H896.56V297.7H897.12V297.7H897.68V297.7H898.24V297.7H898.80V297.7H899.36V297.7H899.92V297.7H900.48V297.7H901.04V297.7H901.60V297.7H902.16V297.7H902.72V297.7H903.28V297.7H903.84V297.7H904.40V297.7H904.96V297.7H905.52V297.7H906.08V297.7H906.64V297.7H907.20V297.7H907.76V297.7H908.32V297.7H908.88V297.7H909.44V297.7H910.00V297.7H910.57V297.7H911.13V297.7H911.69V297.7H912.25V297.7H912.81V297.7H913.37V297.7H913.93V297.7H914.49V297.7H915.05V297.7H915.61V297.7H916.17V297.7H916.73V297.7H917.29V297.7H917.85V297.7H918.41V297.7H918.97V297.7H919.53V297.7H920.09V297.7H920.65V297.7H921.21V297.7H921.77V297.7H922.33V297.7H922.89V297.7H923.45V297.7H924.01V297.7H924.57V297.7H925.13V297.7H925.69V297.7H926.25V297.7H926.81V297.7H927.37V297.7H927.93V297.7H928.49V297.7H929.05V297.7H929.61V297.7H930.17V297.7H930.73V297.7H931.29V297.7H931.85V297.7H932.41V297.7H932.97V297.7H933.53V297.7H934.09V297.7H934.65V297.7H935.21V297.7H935.77V297.7H936.33V297.7H936.89V297.7H937.45V297.7H938.01V297.7H938.57V297.7H939.13V297.7H939.69V297.7H940.25V297.7H940.81V297.7H941.37V297.7H941.93V297.7H942.49V297.7H943.05V297.7H943.61V297.7H944.17V297.7H944.73V297.7H945.29V297.7H945.85V297.7H946.41V297.7H946.97V297.7H947.53V297.7H948.09V297.7H948.65V297.7H949.21V297.7H949.77V297.7H950.33V297.7H950.89V297.7H951.45V297.7H952.01V297.7H952.57V297.7H953.13V297.7H953.69V297.7H954.25V297.7H954.81V297.7H955.37V297.7H955.93V297.7H956.49V297.7H957.05V297.7H957.61V297.7H958.18V297.7H958.74V297.7H959.30V297.7H959.86V297.7H960.42V297.7H960.98V297.7H961.54V297.7H962.10V297.7H962.66V297.7H963.22V297.7H963.78V297.7H964.34V297.7H964.90V297.7H965.46V297.7H966.02V297.7H966.58V297.7H967.14V297.7H967.70V297.7H968.26V297.7H968.82V297.7H969.38V297.7H969.94V297.7H970.50V297.7H971.06V297.7H971.62V297.7H972.18V297.7H972.74V297.7H973.30V297.7H973.86V297.7H974.42V297.7H974.98V297.7H975.54V297.7H976.10V297.7H976.66V297.7H977.22V297.7H977.78V297.7H978.34V297.7H978.90V297.7H979.46V297.7H980.02V297.7H980.58V297.7H981.14V297.7H981.70V297.70Z" fill="#d3d6d5" stroke="#aeb0b0" stroke-width="1.1" stroke-linejoin="miter"/>
<g style="mix-blend-mode:multiply"><path d="M696.60,297.70V281.0H697.16V278.6H697.72V278.1H698.28V278.2H698.84V273.6H699.40V277.2H699.96V272.2H700.52V276.0H701.08V269.5H701.64V272.0H702.20V263.5H702.76V267.0H703.32V258.4H703.88V263.7H704.44V253.8H705.00V256.5H705.56V255.4H706.12V249.4H706.68V249.4H707.24V249.4H707.80V256.6H708.36V262.8H708.92V259.8H709.48V261.6H710.04V257.5H710.60V259.0H711.16V254.4H711.72V257.7H712.28V248.2H712.84V252.1H713.40V241.9H713.96V246.3H714.52V240.7H715.08V245.8H715.64V237.7H716.20V244.7H716.76V224.4H717.32V220.4H717.88V205.7H718.44V169.4H719.00V169.4H719.56V169.4H720.12V190.4H720.69V227.4H721.25V213.8H721.81V216.0H722.37V221.6H722.93V222.1H723.49V201.2H724.05V216.0H724.61V195.7H725.17V207.0H725.73V190.9H726.29V206.6H726.85V188.5H727.41V200.6H727.97V185.5H728.53V198.7H729.09V171.3H729.65V171.3H730.21V171.3H730.77V196.9H731.33V189.0H731.89V195.1H732.45V202.5H733.01V207.1H733.57V182.4H734.13V202.7H734.69V189.5H735.25V178.2H735.81V164.2H736.37V179.2H736.93V164.6H737.49V190.0H738.05V160.1H738.61V160.1H739.17V160.1H739.73V180.3H740.29V172.7H740.85V186.0H741.41V180.8H741.97V186.3H742.53V152.6H743.09V152.6H743.65V152.6H744.21V170.7H744.77V177.7H745.33V173.3H745.89V147.9H746.45V147.9H747.01V147.9H747.57V193.8H748.13V175.5H748.69V192.5H749.25V166.3H749.81V160.1H750.37V160.1H750.93V160.1H751.49V169.5H752.05V195.9H752.61V172.7H753.17V187.3H753.73V178.3H754.29V167.6H754.85V167.6H755.41V167.6H755.97V171.6H756.53V191.1H757.09V174.8H757.65V200.1H758.21V181.2H758.77V202.8H759.33V182.2H759.89V199.7H760.45V197.5H761.01V189.4H761.57V178.8H762.13V178.8H762.69V178.8H763.25V194.8H763.81V209.6H764.37V200.4H764.93V194.3H765.49V210.5H766.05V206.0H766.61V226.6H767.17V214.0H767.73V226.0H768.30V214.8H768.86V221.3H769.42V216.8H769.98V225.2H770.54V216.7H771.10V227.3H771.66V219.1H772.22V230.8H772.78V228.8H773.34V240.5H773.90V233.3H774.46V238.9H775.02V243.1H775.58V229.7H776.14V229.7H776.70V229.7H777.26V242.9H777.82V256.0H778.38V252.0H778.94V257.4H779.50V256.6H780.06V263.3H780.62V261.2H781.18V265.1H781.74V267.4H782.30V264.2H782.86V262.2H783.42V268.9H783.98V264.1H784.54V272.5H785.10V268.2H785.66V273.9H786.22V272.2H786.78V275.6H787.34V274.2H787.90V278.1H788.46V276.7H789.02V280.1H789.58V277.7H790.14V280.9H790.70V277.0H791.26V275.7H791.82V275.7H792.38V275.7H792.94V279.0H793.50V282.8H794.06V283.0H794.62V286.8H795.18V285.6H795.74V287.9H796.30V286.6H796.86V288.7H797.42V287.7H797.98V289.7H798.54V288.9H799.10V290.5H799.66V289.5H800.22V291.2H800.78V290.0H801.34V291.4H801.90V290.6H802.46V291.9H803.02V291.2H803.58V292.7H804.14V291.9H804.70V293.1H805.26V292.6H805.82V293.2H806.38V293.3H806.94V294.2H807.50V293.6H808.06V294.3H808.62V293.9H809.18V294.3H809.74V294.1H810.30V294.7H810.86V294.6H811.42V295.0H811.98V294.5H812.54V294.9H813.10V294.8H813.66V295.2H814.22V295.0H814.78V295.5H815.34V295.1H815.91V295.4H816.47V295.3H817.03V295.8H817.59V295.4H818.15V295.8H818.71V295.6H819.27V296.0H819.83V295.8H820.39V296.0H820.95V296.0H821.51V296.2H822.07V296.0H822.63V296.2H823.19V296.1H823.75V296.3H824.31V296.1H824.87V296.4H825.43V296.5H825.99V296.4H826.55V296.3H827.11V296.6H827.67V296.5H828.23V296.2H828.79V294.8H829.35V294.8H829.91V294.8H830.47V296.1H831.03V296.2H831.59V296.7H832.15V296.5H832.71V296.6H833.27V296.4H833.83V296.5H834.39V296.4H834.95V296.5H835.51V296.3H836.07V296.3H836.63V296.3H837.19V296.6H837.75V296.5H838.31V296.5H838.87V296.5H839.43V296.6H839.99V296.5H840.55V296.7H841.11V296.6H841.67V296.7H842.23V296.7H842.79V296.8H843.35V296.7H843.91V296.9H844.47V296.8H845.03V297.0H845.59V297.0H846.15V297.0H846.71V296.9H847.27V297.1H847.83V297.0H848.39V297.1H848.95V297.1H849.51V296.9H850.07V296.3H850.63V295.4H851.19V295.4H851.75V295.4H852.31V296.8H852.87V297.4H853.43V297.5H853.99V297.5H854.55V297.5H855.11V297.5H855.67V297.5H856.23V297.5H856.79V297.5H857.35V297.5H857.91V297.5H858.47V297.6H859.03V297.6H859.59V297.6H860.15V297.6H860.71V297.6H861.27V297.6H861.83V297.6H862.39V297.6H862.96V297.7H863.52V297.7H864.08V297.7H864.64V297.7H865.20V297.7H865.76V297.7H866.32V297.7H866.88V297.7H867.44V297.7H868.00V297.7H868.56V297.7H869.12V297.7H869.68V297.7H870.24V297.7H870.80V297.7H871.36V297.7H871.92V297.7H872.48V297.7H873.04V297.7H873.60V297.7H874.16V297.7H874.72V297.7H875.28V297.7H875.84V297.7H876.40V297.7H876.96V297.7H877.52V297.7H878.08V297.7H878.64V297.7H879.20V297.7H879.76V297.7H880.32V297.7H880.88V297.7H881.44V297.7H882.00V297.7H882.56V297.7H883.12V297.7H883.68V297.7H884.24V297.7H884.80V297.7H885.36V297.7H885.92V297.7H886.48V297.7H887.04V297.7H887.60V297.7H888.16V297.7H888.72V297.7H889.28V297.7H889.84V297.7H890.40V297.7H890.96V297.7H891.52V297.7H892.08V297.7H892.64V297.7H893.20V297.7H893.76V297.7H894.32V297.7H894.88V297.7H895.44V297.7H896.00V297.7H896.56V297.7H897.12V297.7H897.68V297.7H898.24V297.7H898.80V297.7H899.36V297.7H899.92V297.7H900.48V297.7H901.04V297.7H901.60V297.7H902.16V297.7H902.72V297.7H903.28V297.7H903.84V297.7H904.40V297.7H904.96V297.7H905.52V297.7H906.08V297.7H906.64V297.7H907.20V297.7H907.76V297.7H908.32V297.7H908.88V297.7H909.44V297.7H910.00V297.7H910.57V297.7H911.13V297.7H911.69V297.7H912.25V297.7H912.81V297.7H913.37V297.7H913.93V297.7H914.49V297.7H915.05V297.7H915.61V297.7H916.17V297.7H916.73V297.7H917.29V297.7H917.85V297.7H918.41V297.7H918.97V297.7H919.53V297.7H920.09V297.7H920.65V297.7H921.21V297.7H921.77V297.7H922.33V297.7H922.89V297.7H923.45V297.7H924.01V297.7H924.57V297.7H925.13V297.7H925.69V297.7H926.25V297.7H926.81V297.7H927.37V297.7H927.93V297.7H928.49V297.7H929.05V297.7H929.61V297.7H930.17V297.7H930.73V297.7H931.29V297.7H931.85V297.7H932.41V297.7H932.97V297.7H933.53V297.7H934.09V297.7H934.65V297.7H935.21V297.7H935.77V297.7H936.33V297.7H936.89V297.7H937.45V297.7H938.01V297.7H938.57V297.7H939.13V297.7H939.69V297.7H940.25V297.7H940.81V297.7H941.37V297.7H941.93V297.7H942.49V297.7H943.05V297.7H943.61V297.7H944.17V297.7H944.73V297.7H945.29V297.7H945.85V297.7H946.41V297.7H946.97V297.7H947.53V297.7H948.09V297.7H948.65V297.7H949.21V297.7H949.77V297.7H950.33V297.7H950.89V297.7H951.45V297.7H952.01V297.7H952.57V297.7H953.13V297.7H953.69V297.7H954.25V297.7H954.81V297.7H955.37V297.7H955.93V297.7H956.49V297.7H957.05V297.7H957.61V297.7H958.18V297.7H958.74V297.7H959.30V297.7H959.86V297.7H960.42V297.7H960.98V297.7H961.54V297.7H962.10V297.7H962.66V297.7H963.22V297.7H963.78V297.7H964.34V297.7H964.90V297.7H965.46V297.7H966.02V297.7H966.58V297.7H967.14V297.7H967.70V297.7H968.26V297.7H968.82V297.7H969.38V297.7H969.94V297.7H970.50V297.7H971.06V297.7H971.62V297.7H972.18V297.7H972.74V297.7H973.30V297.7H973.86V297.7H974.42V297.7H974.98V297.7H975.54V297.7H976.10V297.7H976.66V297.7H977.22V297.7H977.78V297.7H978.34V297.7H978.90V297.7H979.46V297.7H980.02V297.7H980.58V297.7H981.14V297.7H981.70V297.70Z" fill="#f8bcb1" stroke="#ec8c66" stroke-width="1.1" stroke-linejoin="miter"/></g>
<rect x="695.6" y="72.9" width="286.90" height="224.80" fill="none" stroke="#383838" stroke-width="1.9"/>
<line x1="696.8000000000001" y1="73.0" x2="696.8000000000001" y2="297.2" stroke="#cf6d49" stroke-width="1.7"/>
<path d="M736.50,297.7v16.6M807.20,297.7v16.6M879.90,297.7v16.6M950.80,297.7v16.6M699.15,297.7v9.2M708.07,297.7v9.2M715.00,297.7v9.2M720.65,297.7v9.2M725.43,297.7v9.2M729.58,297.7v9.2M733.23,297.7v9.2M757.78,297.7v9.2M770.23,297.7v9.2M779.07,297.7v9.2M785.92,297.7v9.2M791.52,297.7v9.2M796.25,297.7v9.2M800.35,297.7v9.2M803.96,297.7v9.2M829.08,297.7v9.2M841.89,297.7v9.2M850.97,297.7v9.2M858.02,297.7v9.2M863.77,297.7v9.2M868.64,297.7v9.2M872.85,297.7v9.2M876.57,297.7v9.2M901.24,297.7v9.2M913.73,297.7v9.2M922.59,297.7v9.2M929.46,297.7v9.2M935.07,297.7v9.2M939.82,297.7v9.2M943.93,297.7v9.2M947.56,297.7v9.2M972.30,297.7v9.2" stroke="#1c1c1c" stroke-width="1.8" fill="none"/>
</g>
<g>
<rect x="1002.1" y="72.9" width="287.60" height="224.80" fill="#fbfbfb"/>
<path d="M1003.10,297.70V276.5H1003.66V266.3H1004.22V266.3H1004.78V266.3H1005.34V277.1H1005.90V285.0H1006.46V277.7H1007.02V277.6H1007.58V268.4H1008.14V273.3H1008.70V259.5H1009.26V249.4H1009.82V249.4H1010.39V249.4H1010.95V252.8H1011.51V260.3H1012.07V255.6H1012.63V267.7H1013.19V258.2H1013.75V269.5H1014.31V256.2H1014.87V266.2H1015.43V250.5H1015.99V261.0H1016.55V245.0H1017.11V248.7H1017.67V255.0H1018.23V258.0H1018.79V236.2H1019.35V250.3H1019.91V232.5H1020.47V252.1H1021.03V228.9H1021.59V230.6H1022.15V211.6H1022.71V227.2H1023.27V192.8H1023.83V190.8H1024.39V153.5H1024.96V153.5H1025.52V153.5H1026.08V207.9H1026.64V198.8H1027.20V215.4H1027.76V192.9H1028.32V223.1H1028.88V182.6H1029.44V182.6H1030.00V182.6H1030.56V215.6H1031.12V187.7H1031.68V202.5H1032.24V194.0H1032.80V220.0H1033.36V177.2H1033.92V204.3H1034.48V167.2H1035.04V145.0H1035.60V145.0H1036.16V145.0H1036.72V164.1H1037.28V200.8H1037.84V179.1H1038.40V213.1H1038.97V165.9H1039.53V197.6H1040.09V154.0H1040.65V178.8H1041.21V168.7H1041.77V130.0H1042.33V130.0H1042.89V130.0H1043.45V144.7H1044.01V170.7H1044.57V137.9H1045.13V119.7H1045.69V119.7H1046.25V119.7H1046.81V167.9H1047.37V191.1H1047.93V140.8H1048.49V126.3H1049.05V126.3H1049.61V126.3H1050.17V131.6H1050.73V152.4H1051.29V135.7H1051.85V147.6H1052.41V116.0H1052.97V116.0H1053.54V116.0H1054.10V159.8H1054.66V138.8H1055.22V171.6H1055.78V150.4H1056.34V171.0H1056.90V190.5H1057.46V196.6H1058.02V162.8H1058.58V209.2H1059.14V170.5H1059.70V183.7H1060.26V174.8H1060.82V204.6H1061.38V176.1H1061.94V193.2H1062.50V181.0H1063.06V196.5H1063.62V188.7H1064.18V211.1H1064.74V192.9H1065.30V185.6H1065.86V185.6H1066.42V185.6H1066.98V211.9H1067.55V211.4H1068.11V202.2H1068.67V231.8H1069.23V205.9H1069.79V230.1H1070.35V212.8H1070.91V235.9H1071.47V216.6H1072.03V238.5H1072.59V222.8H1073.15V242.3H1073.71V231.5H1074.27V255.4H1074.83V238.1H1075.39V259.1H1075.95V243.3H1076.51V248.0H1077.07V241.5H1077.63V258.0H1078.19V241.4H1078.75V240.0H1079.31V240.0H1079.87V240.0H1080.43V251.2H1080.99V260.9H1081.55V258.6H1082.12V266.5H1082.68V263.4H1083.24V268.1H1083.80V265.9H1084.36V270.7H1084.92V269.5H1085.48V275.9H1086.04V272.5H1086.60V279.7H1087.16V275.8H1087.72V282.1H1088.28V278.8H1088.84V282.5H1089.40V280.9H1089.96V286.0H1090.52V281.7H1091.08V286.4H1091.64V282.8H1092.20V285.0H1092.76V284.4H1093.32V288.0H1093.88V285.3H1094.44V289.4H1095.00V286.6H1095.56V289.2H1096.13V287.9H1096.69V289.9H1097.25V289.3H1097.81V291.0H1098.37V291.4H1098.93V292.7H1099.49V291.1H1100.05V293.5H1100.61V291.9H1101.17V294.0H1101.73V294.3H1102.29V293.4H1102.85V292.5H1103.41V293.3H1103.97V292.4H1104.53V293.4H1105.09V292.2H1105.65V293.2H1106.21V292.0H1106.77V291.6H1107.33V291.6H1107.89V291.6H1108.45V292.4H1109.01V294.0H1109.57V293.7H1110.13V294.6H1110.70V293.7H1111.26V294.5H1111.82V294.2H1112.38V295.1H1112.94V294.9H1113.50V295.2H1114.06V295.0H1114.62V295.5H1115.18V295.1H1115.74V295.8H1116.30V295.2H1116.86V295.6H1117.42V295.7H1117.98V296.1H1118.54V295.3H1119.10V295.6H1119.66V295.4H1120.22V295.9H1120.78V295.5H1121.34V295.8H1121.90V295.6H1122.46V296.2H1123.02V295.6H1123.58V296.1H1124.14V295.4H1124.71V295.6H1125.27V295.3H1125.83V295.9H1126.39V295.2H1126.95V295.9H1127.51V295.8H1128.07V295.2H1128.63V295.5H1129.19V295.4H1129.75V294.7H1130.31V295.0H1130.87V294.4H1131.43V294.4H1131.99V294.4H1132.55V295.5H1133.11V294.9H1133.67V296.0H1134.23V296.1H1134.79V296.0H1135.35V295.7H1135.91V296.2H1136.47V296.6H1137.03V296.7H1137.59V296.4H1138.15V296.7H1138.71V296.4H1139.28V296.9H1139.84V296.5H1140.40V296.8H1140.96V296.6H1141.52V296.8H1142.08V296.6H1142.64V297.0H1143.20V296.7H1143.76V297.0H1144.32V296.9H1144.88V297.1H1145.44V296.9H1146.00V297.0H1146.56V296.9H1147.12V297.2H1147.68V297.2H1148.24V297.2H1148.80V297.1H1149.36V297.1H1149.92V297.2H1150.48V297.2H1151.04V297.2H1151.60V297.3H1152.16V297.3H1152.72V297.4H1153.29V297.4H1153.85V297.4H1154.41V297.4H1154.97V297.7H1155.53V297.7H1156.09V297.7H1156.65V297.7H1157.21V297.7H1157.77V297.7H1158.33V297.7H1158.89V297.7H1159.45V297.7H1160.01V297.7H1160.57V297.7H1161.13V297.7H1161.69V297.7H1162.25V297.7H1162.81V297.7H1163.37V297.7H1163.93V297.7H1164.49V297.7H1165.05V297.7H1165.61V297.7H1166.17V297.7H1166.73V297.7H1167.29V297.7H1167.86V297.7H1168.42V297.7H1168.98V297.7H1169.54V297.7H1170.10V297.7H1170.66V297.7H1171.22V297.7H1171.78V297.7H1172.34V297.7H1172.90V297.7H1173.46V297.7H1174.02V297.7H1174.58V297.7H1175.14V297.7H1175.70V297.7H1176.26V297.7H1176.82V297.7H1177.38V297.7H1177.94V297.7H1178.50V297.7H1179.06V297.7H1179.62V297.7H1180.18V297.7H1180.74V297.7H1181.30V297.7H1181.87V297.7H1182.43V297.7H1182.99V297.7H1183.55V297.7H1184.11V297.7H1184.67V297.7H1185.23V297.7H1185.79V297.7H1186.35V297.7H1186.91V297.7H1187.47V297.7H1188.03V297.7H1188.59V297.7H1189.15V297.7H1189.71V297.7H1190.27V297.7H1190.83V297.7H1191.39V297.7H1191.95V297.7H1192.51V297.7H1193.07V297.7H1193.63V297.7H1194.19V297.7H1194.75V297.7H1195.31V297.7H1195.87V297.7H1196.44V297.7H1197.00V297.7H1197.56V297.7H1198.12V297.7H1198.68V297.7H1199.24V297.7H1199.80V297.7H1200.36V297.7H1200.92V297.7H1201.48V297.7H1202.04V297.7H1202.60V297.7H1203.16V297.7H1203.72V297.7H1204.28V297.7H1204.84V297.7H1205.40V297.7H1205.96V297.7H1206.52V297.7H1207.08V297.7H1207.64V297.7H1208.20V297.7H1208.76V297.7H1209.32V297.7H1209.88V297.7H1210.45V297.7H1211.01V297.7H1211.57V297.7H1212.13V297.7H1212.69V297.7H1213.25V297.7H1213.81V297.7H1214.37V297.7H1214.93V297.7H1215.49V297.7H1216.05V297.7H1216.61V297.7H1217.17V297.7H1217.73V297.7H1218.29V297.7H1218.85V297.7H1219.41V297.7H1219.97V297.7H1220.53V297.7H1221.09V297.7H1221.65V297.7H1222.21V297.7H1222.77V297.7H1223.33V297.7H1223.89V297.7H1224.45V297.7H1225.02V297.7H1225.58V297.7H1226.14V297.7H1226.70V297.7H1227.26V297.7H1227.82V297.7H1228.38V297.7H1228.94V297.7H1229.50V297.7H1230.06V297.7H1230.62V297.7H1231.18V297.7H1231.74V297.7H1232.30V297.7H1232.86V297.7H1233.42V297.7H1233.98V297.7H1234.54V297.7H1235.10V297.7H1235.66V297.7H1236.22V297.7H1236.78V297.7H1237.34V297.7H1237.90V297.7H1238.46V297.7H1239.03V297.7H1239.59V297.7H1240.15V297.7H1240.71V297.7H1241.27V297.7H1241.83V297.7H1242.39V297.7H1242.95V297.7H1243.51V297.7H1244.07V297.7H1244.63V297.7H1245.19V297.7H1245.75V297.7H1246.31V297.7H1246.87V297.7H1247.43V297.7H1247.99V297.7H1248.55V297.7H1249.11V297.7H1249.67V297.7H1250.23V297.7H1250.79V297.7H1251.35V297.7H1251.91V297.7H1252.47V297.7H1253.03V297.7H1253.60V297.7H1254.16V297.7H1254.72V297.7H1255.28V297.7H1255.84V297.7H1256.40V297.7H1256.96V297.7H1257.52V297.7H1258.08V297.7H1258.64V297.7H1259.20V297.7H1259.76V297.7H1260.32V297.7H1260.88V297.7H1261.44V297.7H1262.00V297.7H1262.56V297.7H1263.12V297.7H1263.68V297.7H1264.24V297.7H1264.80V297.7H1265.36V297.7H1265.92V297.7H1266.48V297.7H1267.04V297.7H1267.61V297.7H1268.17V297.7H1268.73V297.7H1269.29V297.7H1269.85V297.7H1270.41V297.7H1270.97V297.7H1271.53V297.7H1272.09V297.7H1272.65V297.7H1273.21V297.7H1273.77V297.7H1274.33V297.7H1274.89V297.7H1275.45V297.7H1276.01V297.7H1276.57V297.7H1277.13V297.7H1277.69V297.7H1278.25V297.7H1278.81V297.7H1279.37V297.7H1279.93V297.7H1280.49V297.7H1281.05V297.7H1281.61V297.7H1282.18V297.7H1282.74V297.7H1283.30V297.7H1283.86V297.7H1284.42V297.7H1284.98V297.7H1285.54V297.7H1286.10V297.7H1286.66V297.7H1287.22V297.7H1287.78V297.7H1288.34V297.7H1288.90V297.70Z" fill="#d3d6d5" stroke="#aeb0b0" stroke-width="1.1" stroke-linejoin="miter"/>
<g style="mix-blend-mode:multiply"><path d="M1003.10,297.70V288.9H1003.66V289.0H1004.22V287.6H1004.78V288.2H1005.34V285.9H1005.90V286.5H1006.46V284.2H1007.02V284.7H1007.58V281.9H1008.14V283.0H1008.70V279.7H1009.26V280.9H1009.82V277.4H1010.39V279.9H1010.95V276.1H1011.51V276.9H1012.07V273.8H1012.63V273.8H1013.19V273.8H1013.75V279.2H1014.31V276.2H1014.87V278.3H1015.43V277.6H1015.99V279.2H1016.55V274.6H1017.11V277.2H1017.67V271.7H1018.23V274.3H1018.79V269.7H1019.35V272.1H1019.91V267.8H1020.47V269.5H1021.03V266.2H1021.59V266.7H1022.15V261.8H1022.71V264.4H1023.27V257.5H1023.83V258.4H1024.39V253.9H1024.96V257.4H1025.52V249.5H1026.08V254.6H1026.64V246.1H1027.20V254.2H1027.76V245.1H1028.32V251.4H1028.88V244.3H1029.44V247.4H1030.00V242.6H1030.56V246.7H1031.12V242.5H1031.68V250.1H1032.24V241.4H1032.80V246.2H1033.36V244.2H1033.92V235.6H1034.48V222.7H1035.04V221.3H1035.60V214.3H1036.16V220.5H1036.72V212.3H1037.28V219.6H1037.84V208.3H1038.40V212.0H1038.97V204.6H1039.53V210.8H1040.09V195.0H1040.65V195.0H1041.21V195.0H1041.77V202.3H1042.33V191.4H1042.89V175.1H1043.45V175.1H1044.01V175.1H1044.57V183.2H1045.13V201.8H1045.69V188.4H1046.25V204.5H1046.81V185.4H1047.37V194.5H1047.93V174.0H1048.49V181.2H1049.05V182.8H1049.61V171.2H1050.17V158.5H1050.73V180.0H1051.29V154.6H1051.85V168.2H1052.41V143.9H1052.97V135.7H1053.54V135.7H1054.10V135.7H1054.66V166.9H1055.22V184.3H1055.78V160.8H1056.34V170.3H1056.90V156.1H1057.46V173.3H1058.02V147.1H1058.58V152.5H1059.14V142.5H1059.70V146.9H1060.26V133.6H1060.82V155.0H1061.38V125.0H1061.94V125.0H1062.50V125.0H1063.06V152.6H1063.62V130.6H1064.18V150.9H1064.74V140.5H1065.30V160.9H1065.86V148.0H1066.42V162.6H1066.98V130.0H1067.55V130.0H1068.11V130.0H1068.67V152.7H1069.23V143.3H1069.79V136.6H1070.35V136.6H1070.91V136.6H1071.47V150.0H1072.03V171.3H1072.59V157.2H1073.15V172.0H1073.71V161.9H1074.27V175.5H1074.83V169.6H1075.39V181.8H1075.95V195.1H1076.51V187.8H1077.07V186.3H1077.63V196.9H1078.19V190.9H1078.75V202.9H1079.31V193.4H1079.87V212.1H1080.43V199.9H1080.99V211.6H1081.55V207.3H1082.12V224.1H1082.68V218.9H1083.24V226.6H1083.80V225.3H1084.36V239.2H1084.92V231.8H1085.48V241.7H1086.04V236.4H1086.60V241.0H1087.16V242.1H1087.72V234.4H1088.28V234.4H1088.84V234.4H1089.40V238.6H1089.96V243.7H1090.52V251.0H1091.08V253.7H1091.64V255.2H1092.20V253.8H1092.76V253.4H1093.32V260.5H1093.88V259.5H1094.44V268.0H1095.00V264.6H1095.56V269.8H1096.13V269.1H1096.69V275.5H1097.25V272.5H1097.81V274.4H1098.37V273.4H1098.93V276.3H1099.49V274.0H1100.05V275.8H1100.61V275.7H1101.17V279.9H1101.73V278.1H1102.29V280.1H1102.85V280.2H1103.41V283.3H1103.97V282.2H1104.53V285.6H1105.09V284.6H1105.65V286.2H1106.21V283.2H1106.77V280.4H1107.33V280.4H1107.89V280.4H1108.45V284.1H1109.01V286.5H1109.57V287.3H1110.13V289.8H1110.70V289.2H1111.26V290.3H1111.82V289.9H1112.38V291.0H1112.94V291.8H1113.50V291.3H1114.06V291.2H1114.62V292.6H1115.18V291.9H1115.74V292.5H1116.30V292.2H1116.86V293.1H1117.42V292.6H1117.98V293.4H1118.54V293.0H1119.10V293.5H1119.66V293.3H1120.22V293.7H1120.78V293.6H1121.34V294.2H1121.90V293.8H1122.46V294.4H1123.02V294.0H1123.58V294.4H1124.14V294.2H1124.71V294.8H1125.27V294.3H1125.83V294.7H1126.39V294.5H1126.95V294.9H1127.51V294.6H1128.07V295.0H1128.63V294.7H1129.19V294.9H1129.75V294.8H1130.31V295.2H1130.87V294.9H1131.43V295.1H1131.99V295.0H1132.55V295.4H1133.11V295.1H1133.67V295.5H1134.23V295.1H1134.79V295.3H1135.35V295.3H1135.91V295.5H1136.47V295.3H1137.03V295.8H1137.59V295.4H1138.15V295.8H1138.71V295.4H1139.28V295.8H1139.84V295.5H1140.40V295.8H1140.96V295.5H1141.52V295.7H1142.08V295.5H1142.64V295.9H1143.20V295.6H1143.76V295.9H1144.32V295.6H1144.88V295.9H1145.44V295.7H1146.00V295.8H1146.56V295.7H1147.12V296.1H1147.68V295.8H1148.24V296.0H1148.80V296.0H1149.36V296.1H1149.92V295.8H1150.48V296.0H1151.04V296.0H1151.60V296.0H1152.16V295.9H1152.72V296.1H1153.29V295.9H1153.85V296.1H1154.41V296.0H1154.97V296.2H1155.53V296.1H1156.09V296.3H1156.65V296.2H1157.21V296.4H1157.77V296.2H1158.33V296.5H1158.89V296.3H1159.45V296.6H1160.01V296.4H1160.57V296.6H1161.13V296.5H1161.69V296.7H1162.25V296.6H1162.81V296.8H1163.37V296.7H1163.93V296.8H1164.49V296.8H1165.05V296.8H1165.61V296.8H1166.17V296.9H1166.73V296.9H1167.29V297.0H1167.86V296.9H1168.42V297.1H1168.98V297.0H1169.54V297.0H1170.10V297.0H1170.66V297.1H1171.22V297.1H1171.78V297.1H1172.34V297.1H1172.90V297.2H1173.46V297.2H1174.02V297.2H1174.58V297.2H1175.14V297.0H1175.70V295.8H1176.26V295.8H1176.82V295.8H1177.38V297.2H1177.94V297.5H1178.50V297.5H1179.06V297.5H1179.62V297.5H1180.18V297.5H1180.74V297.6H1181.30V297.6H1181.87V297.6H1182.43V297.6H1182.99V297.7H1183.55V297.7H1184.11V297.7H1184.67V297.7H1185.23V297.7H1185.79V297.7H1186.35V297.7H1186.91V297.7H1187.47V297.7H1188.03V297.7H1188.59V297.7H1189.15V297.7H1189.71V297.7H1190.27V297.7H1190.83V297.7H1191.39V297.7H1191.95V297.7H1192.51V297.7H1193.07V297.7H1193.63V297.7H1194.19V297.7H1194.75V297.7H1195.31V297.7H1195.87V297.7H1196.44V297.7H1197.00V297.7H1197.56V297.7H1198.12V297.7H1198.68V297.7H1199.24V297.7H1199.80V297.7H1200.36V297.7H1200.92V297.7H1201.48V297.7H1202.04V297.7H1202.60V297.7H1203.16V297.7H1203.72V297.7H1204.28V297.7H1204.84V297.7H1205.40V297.7H1205.96V297.7H1206.52V297.7H1207.08V297.7H1207.64V297.7H1208.20V297.7H1208.76V297.7H1209.32V297.7H1209.88V297.7H1210.45V297.7H1211.01V297.7H1211.57V297.7H1212.13V297.7H1212.69V297.7H1213.25V297.7H1213.81V297.7H1214.37V297.7H1214.93V297.7H1215.49V297.7H1216.05V297.7H1216.61V297.7H1217.17V297.7H1217.73V297.7H1218.29V297.7H1218.85V297.7H1219.41V297.7H1219.97V297.7H1220.53V297.7H1221.09V297.7H1221.65V297.7H1222.21V297.7H1222.77V297.7H1223.33V297.7H1223.89V297.7H1224.45V297.7H1225.02V297.7H1225.58V297.7H1226.14V297.7H1226.70V297.7H1227.26V297.7H1227.82V297.7H1228.38V297.7H1228.94V297.7H1229.50V297.7H1230.06V297.7H1230.62V297.7H1231.18V297.7H1231.74V297.7H1232.30V297.7H1232.86V297.7H1233.42V297.7H1233.98V297.7H1234.54V297.7H1235.10V297.7H1235.66V297.7H1236.22V297.7H1236.78V297.7H1237.34V297.7H1237.90V297.7H1238.46V297.7H1239.03V297.7H1239.59V297.7H1240.15V297.7H1240.71V297.7H1241.27V297.7H1241.83V297.7H1242.39V297.7H1242.95V297.7H1243.51V297.7H1244.07V297.7H1244.63V297.7H1245.19V297.7H1245.75V297.7H1246.31V297.7H1246.87V297.7H1247.43V297.7H1247.99V297.7H1248.55V297.7H1249.11V297.7H1249.67V297.7H1250.23V297.7H1250.79V297.7H1251.35V297.7H1251.91V297.7H1252.47V297.7H1253.03V297.7H1253.60V297.7H1254.16V297.7H1254.72V297.7H1255.28V297.7H1255.84V297.7H1256.40V297.7H1256.96V297.7H1257.52V297.7H1258.08V297.7H1258.64V297.7H1259.20V297.7H1259.76V297.7H1260.32V297.7H1260.88V297.7H1261.44V297.7H1262.00V297.7H1262.56V297.7H1263.12V297.7H1263.68V297.7H1264.24V297.7H1264.80V297.7H1265.36V297.7H1265.92V297.7H1266.48V297.7H1267.04V297.7H1267.61V297.7H1268.17V297.7H1268.73V297.7H1269.29V297.7H1269.85V297.7H1270.41V297.7H1270.97V297.7H1271.53V297.7H1272.09V297.7H1272.65V297.7H1273.21V297.7H1273.77V297.7H1274.33V297.7H1274.89V297.7H1275.45V297.7H1276.01V297.7H1276.57V297.7H1277.13V297.7H1277.69V297.7H1278.25V297.7H1278.81V297.7H1279.37V297.7H1279.93V297.7H1280.49V297.7H1281.05V297.7H1281.61V297.7H1282.18V297.7H1282.74V297.7H1283.30V297.7H1283.86V297.7H1284.42V297.7H1284.98V297.7H1285.54V297.7H1286.10V297.7H1286.66V297.7H1287.22V297.7H1287.78V297.7H1288.34V297.7H1288.90V297.70Z" fill="#f8bcb1" stroke="#ec8c66" stroke-width="1.1" stroke-linejoin="miter"/></g>
<rect x="1002.1" y="72.9" width="287.60" height="224.80" fill="none" stroke="#383838" stroke-width="1.9"/>
<line x1="1003.3000000000001" y1="90.0" x2="1003.3000000000001" y2="297.2" stroke="#cf6d49" stroke-width="1.7"/>
<path d="M1042.80,297.7v16.6M1113.80,297.7v16.6M1186.80,297.7v16.6M1258.00,297.7v16.6M1005.29,297.7v9.2M1014.25,297.7v9.2M1021.21,297.7v9.2M1026.89,297.7v9.2M1031.69,297.7v9.2M1035.85,297.7v9.2M1039.52,297.7v9.2M1064.17,297.7v9.2M1076.68,297.7v9.2M1085.55,297.7v9.2M1092.43,297.7v9.2M1098.05,297.7v9.2M1102.80,297.7v9.2M1106.92,297.7v9.2M1110.55,297.7v9.2M1135.78,297.7v9.2M1148.63,297.7v9.2M1157.75,297.7v9.2M1164.82,297.7v9.2M1170.61,297.7v9.2M1175.49,297.7v9.2M1179.73,297.7v9.2M1183.46,297.7v9.2M1208.23,297.7v9.2M1220.77,297.7v9.2M1229.67,297.7v9.2M1236.57,297.7v9.2M1242.20,297.7v9.2M1246.97,297.7v9.2M1251.10,297.7v9.2M1254.74,297.7v9.2M1279.59,297.7v9.2" stroke="#1c1c1c" stroke-width="1.8" fill="none"/>
</g>
<g>
<rect x="1306.8" y="72.9" width="287.50" height="224.80" fill="#fbfbfb"/>
<path d="M1307.80,297.70V294.8H1308.36V294.8H1308.92V294.5H1309.48V294.7H1310.04V294.5H1310.60V294.6H1311.16V293.7H1311.72V293.7H1312.28V293.7H1312.84V294.4H1313.40V294.0H1313.96V294.5H1314.52V294.3H1315.08V294.6H1315.64V294.9H1316.20V294.5H1316.76V294.2H1317.32V294.6H1317.88V294.0H1318.44V294.1H1319.00V293.7H1319.56V294.1H1320.12V293.4H1320.68V293.7H1321.24V293.1H1321.80V293.7H1322.37V293.5H1322.93V292.6H1323.49V292.6H1324.05V292.6H1324.61V292.7H1325.17V293.2H1325.73V292.7H1326.29V293.1H1326.85V292.6H1327.41V293.1H1327.97V292.7H1328.53V292.6H1329.09V292.6H1329.65V292.6H1330.21V293.5H1330.77V294.2H1331.33V294.1H1331.89V294.7H1332.45V294.8H1333.01V295.2H1333.57V295.2H1334.13V295.2H1334.69V295.2H1335.25V295.1H1335.81V294.8H1336.37V295.2H1336.93V295.2H1337.49V295.1H1338.05V294.7H1338.61V294.9H1339.17V294.7H1339.73V295.0H1340.29V294.7H1340.85V295.0H1341.41V294.6H1341.97V295.1H1342.53V294.6H1343.09V294.9H1343.65V294.6H1344.21V294.9H1344.77V294.6H1345.33V294.9H1345.89V294.6H1346.45V294.8H1347.01V294.5H1347.57V294.8H1348.13V294.6H1348.69V294.4H1349.25V294.4H1349.81V294.4H1350.37V294.5H1350.94V294.9H1351.50V294.6H1352.06V295.1H1352.62V294.6H1353.18V295.0H1353.74V294.7H1354.30V294.8H1354.86V294.7H1355.42V295.2H1355.98V295.2H1356.54V295.1H1357.10V294.8H1357.66V295.0H1358.22V294.8H1358.78V295.1H1359.34V294.7H1359.90V295.0H1360.46V294.6H1361.02V294.7H1361.58V294.5H1362.14V294.7H1362.70V294.4H1363.26V294.8H1363.82V294.3H1364.38V294.6H1364.94V294.7H1365.50V294.4H1366.06V294.4H1366.62V294.5H1367.18V294.1H1367.74V294.3H1368.30V294.0H1368.86V294.4H1369.42V294.3H1369.98V294.0H1370.54V293.8H1371.10V294.3H1371.66V293.7H1372.22V294.1H1372.78V293.6H1373.34V293.9H1373.90V293.4H1374.46V293.5H1375.02V293.1H1375.58V293.6H1376.14V292.9H1376.70V293.2H1377.26V292.7H1377.82V293.2H1378.38V291.8H1378.94V292.3H1379.51V290.8H1380.07V291.0H1380.63V289.7H1381.19V290.1H1381.75V288.6H1382.31V289.1H1382.87V287.1H1383.43V288.1H1383.99V285.6H1384.55V285.6H1385.11V285.2H1385.67V285.3H1386.23V282.3H1386.79V282.4H1387.35V280.3H1387.91V281.2H1388.47V278.5H1389.03V278.4H1389.59V276.5H1390.15V277.0H1390.71V274.2H1391.27V276.3H1391.83V271.8H1392.39V272.5H1392.95V270.0H1393.51V270.5H1394.07V268.3H1394.63V270.6H1395.19V266.3H1395.75V268.9H1396.31V265.0H1396.87V265.8H1397.43V263.1H1397.99V266.1H1398.55V261.9H1399.11V264.5H1399.67V253.6H1400.23V253.5H1400.79V243.7H1401.35V248.2H1401.91V240.4H1402.47V236.3H1403.03V236.3H1403.59V236.3H1404.15V241.2H1404.71V249.2H1405.27V244.4H1405.83V251.1H1406.39V243.8H1406.95V248.1H1407.51V239.6H1408.08V234.4H1408.64V234.4H1409.20V234.4H1409.76V236.3H1410.32V244.0H1410.88V238.3H1411.44V241.9H1412.00V235.5H1412.56V226.9H1413.12V226.9H1413.68V226.9H1414.24V229.1H1414.80V239.2H1415.36V231.9H1415.92V238.9H1416.48V233.3H1417.04V242.5H1417.60V239.0H1418.16V238.8H1418.72V237.1H1419.28V239.3H1419.84V240.8H1420.40V238.8H1420.96V235.2H1421.52V228.8H1422.08V217.5H1422.64V217.5H1423.20V217.5H1423.76V229.5H1424.32V225.1H1424.88V232.9H1425.44V228.6H1426.00V231.7H1426.56V223.6H1427.12V231.0H1427.68V217.9H1428.24V223.7H1428.80V212.6H1429.36V207.2H1429.92V207.2H1430.48V207.2H1431.04V210.0H1431.60V222.2H1432.16V211.1H1432.72V221.8H1433.28V217.6H1433.84V225.6H1434.40V223.3H1434.96V233.0H1435.52V224.6H1436.08V228.0H1436.65V220.7H1437.21V223.0H1437.77V217.8H1438.33V223.8H1438.89V218.1H1439.45V224.1H1440.01V215.6H1440.57V215.6H1441.13V215.6H1441.69V230.5H1442.25V222.7H1442.81V233.1H1443.37V227.3H1443.93V235.3H1444.49V230.3H1445.05V236.6H1445.61V233.4H1446.17V241.4H1446.73V231.8H1447.29V239.0H1447.85V229.8H1448.41V227.4H1448.97V220.9H1449.53V215.6H1450.09V215.6H1450.65V215.6H1451.21V222.1H1451.77V235.2H1452.33V225.9H1452.89V232.1H1453.45V236.1H1454.01V236.0H1454.57V231.9H1455.13V223.2H1455.69V223.2H1456.25V223.2H1456.81V227.1H1457.37V232.8H1457.93V230.1H1458.49V237.1H1459.05V226.1H1459.61V226.1H1460.17V215.6H1460.73V215.6H1461.29V215.6H1461.85V234.4H1462.41V229.4H1462.97V238.1H1463.53V233.7H1464.09V239.2H1464.65V234.3H1465.22V241.0H1465.78V234.5H1466.34V242.0H1466.90V241.8H1467.46V252.4H1468.02V246.8H1468.58V252.6H1469.14V250.2H1469.70V254.3H1470.26V250.2H1470.82V253.4H1471.38V252.7H1471.94V243.8H1472.50V243.8H1473.06V243.8H1473.62V248.0H1474.18V254.1H1474.74V250.4H1475.30V256.2H1475.86V253.5H1476.42V260.5H1476.98V256.0H1477.54V260.1H1478.10V259.1H1478.66V264.0H1479.22V264.0H1479.78V265.5H1480.34V263.6H1480.90V269.5H1481.46V267.4H1482.02V269.8H1482.58V267.9H1483.14V272.3H1483.70V270.7H1484.26V273.2H1484.82V275.2H1485.38V276.1H1485.94V273.3H1486.50V276.4H1487.06V276.3H1487.62V278.6H1488.18V277.8H1488.74V277.9H1489.30V276.9H1489.86V278.2H1490.42V276.0H1490.98V278.0H1491.54V275.7H1492.10V275.7H1492.66V275.7H1493.22V279.8H1493.79V278.6H1494.35V281.7H1494.91V280.1H1495.47V282.0H1496.03V283.9H1496.59V283.8H1497.15V281.9H1497.71V283.0H1498.27V282.2H1498.83V284.0H1499.39V282.5H1499.95V284.6H1500.51V283.7H1501.07V285.9H1501.63V284.8H1502.19V286.1H1502.75V286.4H1503.31V287.5H1503.87V287.0H1504.43V288.0H1504.99V287.0H1505.55V288.1H1506.11V287.0H1506.67V286.9H1507.23V286.9H1507.79V286.9H1508.35V287.9H1508.91V288.9H1509.47V288.7H1510.03V290.1H1510.59V289.7H1511.15V290.8H1511.71V290.2H1512.27V290.7H1512.83V290.5H1513.39V291.2H1513.95V290.8H1514.51V291.4H1515.07V291.2H1515.63V292.3H1516.19V291.5H1516.75V292.4H1517.31V291.8H1517.87V292.3H1518.43V291.9H1518.99V292.2H1519.55V292.0H1520.11V292.5H1520.67V292.1H1521.23V292.5H1521.79V292.3H1522.36V292.9H1522.92V292.3H1523.48V292.8H1524.04V292.5H1524.60V293.1H1525.16V292.5H1525.72V292.9H1526.28V292.6H1526.84V293.1H1527.40V293.2H1527.96V293.2H1528.52V293.1H1529.08V293.5H1529.64V293.0H1530.20V293.3H1530.76V293.1H1531.32V293.4H1531.88V293.2H1532.44V293.5H1533.00V293.3H1533.56V293.8H1534.12V293.5H1534.68V294.1H1535.24V293.5H1535.80V293.8H1536.36V293.6H1536.92V294.0H1537.48V293.6H1538.04V293.9H1538.60V293.5H1539.16V293.9H1539.72V293.5H1540.28V294.1H1540.84V293.6H1541.40V293.9H1541.96V293.6H1542.52V293.9H1543.08V294.1H1543.64V293.9H1544.20V293.5H1544.76V293.5H1545.32V293.5H1545.88V294.2H1546.44V293.7H1547.00V294.1H1547.56V293.8H1548.12V294.2H1548.68V293.8H1549.24V294.2H1549.80V293.9H1550.36V294.4H1550.93V294.0H1551.49V294.5H1552.05V294.0H1552.61V294.3H1553.17V294.1H1553.73V294.5H1554.29V294.2H1554.85V294.8H1555.41V294.3H1555.97V294.8H1556.53V294.4H1557.09V294.8H1557.65V294.4H1558.21V294.9H1558.77V294.5H1559.33V295.0H1559.89V294.6H1560.45V295.0H1561.01V294.7H1561.57V295.0H1562.13V294.8H1562.69V294.9H1563.25V294.8H1563.81V295.2H1564.37V294.9H1564.93V295.1H1565.49V295.0H1566.05V295.3H1566.61V295.0H1567.17V295.3H1567.73V295.1H1568.29V295.3H1568.85V295.2H1569.41V295.4H1569.97V295.2H1570.53V295.5H1571.09V295.3H1571.65V295.5H1572.21V295.4H1572.77V295.5H1573.33V295.4H1573.89V295.7H1574.45V295.5H1575.01V295.8H1575.57V295.6H1576.13V295.8H1576.69V295.6H1577.25V296.0H1577.81V295.7H1578.37V295.9H1578.93V295.8H1579.50V296.1H1580.06V295.8H1580.62V296.0H1581.18V295.9H1581.74V296.1H1582.30V296.0H1582.86V296.1H1583.42V296.1H1583.98V296.2H1584.54V296.3H1585.10V296.3H1585.66V296.2H1586.22V296.3H1586.78V296.3H1587.34V296.4H1587.90V296.4H1588.46V296.5H1589.02V296.5H1589.58V296.6H1590.14V296.5H1590.70V296.7H1591.26V296.7H1591.82V296.8H1592.38V296.7H1592.94V296.8H1593.50V297.70Z" fill="#d3d6d5" stroke="#aeb0b0" stroke-width="1.1" stroke-linejoin="miter"/>
<g style="mix-blend-mode:multiply"><path d="M1307.80,297.70V294.4H1308.36V294.4H1308.92V294.4H1309.48V294.8H1310.04V294.6H1310.60V294.8H1311.16V294.8H1311.72V295.0H1312.28V294.8H1312.84V294.9H1313.40V294.8H1313.96V295.0H1314.52V294.9H1315.08V295.0H1315.64V294.9H1316.20V295.1H1316.76V295.0H1317.32V295.2H1317.88V295.1H1318.44V295.4H1319.00V295.3H1319.56V295.4H1320.12V295.2H1320.68V295.3H1321.24V295.2H1321.80V295.3H1322.37V295.2H1322.93V295.4H1323.49V295.2H1324.05V295.3H1324.61V295.2H1325.17V295.4H1325.73V295.2H1326.29V295.3H1326.85V295.2H1327.41V295.3H1327.97V295.2H1328.53V295.4H1329.09V295.2H1329.65V295.4H1330.21V295.2H1330.77V295.4H1331.33V295.2H1331.89V295.4H1332.45V295.4H1333.01V295.3H1333.57V295.2H1334.13V295.4H1334.69V295.2H1335.25V295.4H1335.81V295.2H1336.37V295.3H1336.93V295.2H1337.49V295.3H1338.05V295.2H1338.61V295.2H1339.17V294.8H1339.73V294.7H1340.29V294.3H1340.85V294.1H1341.41V293.7H1341.97V293.8H1342.53V293.2H1343.09V292.6H1343.65V292.6H1344.21V292.6H1344.77V293.0H1345.33V293.5H1345.89V293.5H1346.45V294.1H1347.01V294.1H1347.57V294.5H1348.13V294.6H1348.69V295.1H1349.25V295.1H1349.81V295.2H1350.37V294.8H1350.94V294.7H1351.50V294.3H1352.06V294.2H1352.62V293.8H1353.18V293.7H1353.74V293.4H1354.30V293.4H1354.86V292.7H1355.42V292.8H1355.98V292.2H1356.54V292.3H1357.10V291.6H1357.66V291.7H1358.22V291.3H1358.78V291.2H1359.34V290.7H1359.90V290.8H1360.46V289.8H1361.02V289.8H1361.58V289.8H1362.14V291.1H1362.70V290.7H1363.26V291.6H1363.82V291.3H1364.38V292.1H1364.94V291.9H1365.50V292.4H1366.06V292.4H1366.62V292.9H1367.18V292.2H1367.74V292.3H1368.30V291.7H1368.86V291.7H1369.42V291.1H1369.98V291.2H1370.54V290.8H1371.10V290.1H1371.66V288.4H1372.22V288.3H1372.78V286.8H1373.34V286.5H1373.90V285.2H1374.46V285.2H1375.02V284.6H1375.58V285.0H1376.14V284.1H1376.70V284.4H1377.26V283.4H1377.82V284.0H1378.38V283.1H1378.94V283.4H1379.51V282.9H1380.07V283.6H1380.63V282.6H1381.19V283.6H1381.75V281.7H1382.31V282.4H1382.87V279.9H1383.43V280.1H1383.99V278.1H1384.55V278.3H1385.11V277.6H1385.67V276.4H1386.23V273.7H1386.79V274.1H1387.35V270.4H1387.91V270.1H1388.47V260.7H1389.03V260.7H1389.59V260.7H1390.15V267.7H1390.71V268.2H1391.27V269.3H1391.83V266.5H1392.39V267.2H1392.95V264.7H1393.51V265.6H1394.07V261.6H1394.63V261.6H1395.19V261.6H1395.75V266.7H1396.31V265.8H1396.87V269.9H1397.43V268.3H1397.99V270.4H1398.55V270.1H1399.11V271.7H1399.67V271.6H1400.23V273.1H1400.79V271.5H1401.35V270.6H1401.91V268.6H1402.47V269.4H1403.03V266.5H1403.59V268.2H1404.15V264.3H1404.71V266.0H1405.27V260.7H1405.83V260.7H1406.39V260.7H1406.95V265.7H1407.51V263.0H1408.08V266.1H1408.64V264.6H1409.20V268.5H1409.76V266.2H1410.32V269.7H1410.88V267.6H1411.44V270.0H1412.00V265.4H1412.56V264.7H1413.12V255.0H1413.68V255.0H1414.24V255.0H1414.80V260.3H1415.36V260.4H1415.92V263.2H1416.48V262.6H1417.04V265.0H1417.60V261.8H1418.16V262.4H1418.72V261.1H1419.28V261.5H1419.84V259.4H1420.40V260.6H1420.96V258.0H1421.52V258.1H1422.08V255.0H1422.64V255.0H1423.20V255.0H1423.76V258.1H1424.32V257.7H1424.88V261.0H1425.44V259.1H1426.00V261.5H1426.56V256.7H1427.12V258.1H1427.68V253.2H1428.24V253.2H1428.80V253.2H1429.36V260.7H1429.92V259.9H1430.48V263.4H1431.04V264.2H1431.60V265.9H1432.16V263.3H1432.72V264.5H1433.28V260.7H1433.84V260.7H1434.40V260.7H1434.96V264.6H1435.52V264.0H1436.08V267.1H1436.65V266.4H1437.21V268.8H1437.77V264.9H1438.33V267.0H1438.89V262.6H1439.45V262.6H1440.01V262.6H1440.57V266.3H1441.13V264.9H1441.69V266.8H1442.25V266.6H1442.81V268.6H1443.37V268.5H1443.93V270.2H1444.49V268.9H1445.05V270.2H1445.61V269.5H1446.17V272.2H1446.73V269.9H1447.29V272.0H1447.85V271.2H1448.41V268.7H1448.97V266.6H1449.53V266.7H1450.09V262.6H1450.65V262.6H1451.21V262.6H1451.77V267.3H1452.33V266.7H1452.89V270.4H1453.45V269.3H1454.01V271.8H1454.57V272.0H1455.13V272.9H1455.69V269.9H1456.25V271.1H1456.81V266.3H1457.37V266.3H1457.93V266.3H1458.49V270.4H1459.05V270.8H1459.61V274.0H1460.17V274.0H1460.73V272.0H1461.29V265.1H1461.85V262.4H1462.41V258.4H1462.97V260.3H1463.53V256.1H1464.09V256.6H1464.65V254.1H1465.22V252.9H1465.78V248.1H1466.34V248.0H1466.90V241.7H1467.46V244.1H1468.02V236.0H1468.58V238.5H1469.14V229.5H1469.70V231.5H1470.26V231.2H1470.82V227.6H1471.38V221.1H1471.94V223.7H1472.50V217.2H1473.06V218.5H1473.62V209.4H1474.18V209.0H1474.74V175.1H1475.30V175.1H1475.86V175.1H1476.42V171.9H1476.98V154.2H1477.54V158.5H1478.10V143.3H1478.66V150.5H1479.22V139.9H1479.78V142.7H1480.34V130.0H1480.90V132.5H1481.46V125.5H1482.02V123.5H1482.58V123.5H1483.14V123.5H1483.70V129.3H1484.26V136.4H1484.82V132.1H1485.38V137.4H1485.94V128.2H1486.50V128.2H1487.06V128.2H1487.62V137.3H1488.18V134.9H1488.74V152.4H1489.30V140.1H1489.86V154.6H1490.42V147.4H1490.98V157.5H1491.54V156.3H1492.10V167.3H1492.66V163.7H1493.22V175.4H1493.79V170.7H1494.35V188.8H1494.91V194.0H1495.47V209.8H1496.03V205.1H1496.59V209.1H1497.15V205.1H1497.71V209.5H1498.27V204.4H1498.83V204.4H1499.39V204.4H1499.95V216.5H1500.51V210.1H1501.07V216.7H1501.63V217.5H1502.19V227.3H1502.75V224.1H1503.31V232.5H1503.87V230.6H1504.43V238.8H1504.99V237.9H1505.55V245.0H1506.11V245.4H1506.67V234.4H1507.23V234.4H1507.79V234.4H1508.35V244.9H1508.91V252.7H1509.47V244.7H1510.03V244.7H1510.59V244.7H1511.15V256.8H1511.71V260.3H1512.27V265.3H1512.83V264.9H1513.39V269.9H1513.95V272.2H1514.51V274.3H1515.07V275.3H1515.63V278.5H1516.19V276.9H1516.75V278.0H1517.31V275.3H1517.87V273.8H1518.43V273.8H1518.99V273.8H1519.55V281.2H1520.11V285.3H1520.67V284.3H1521.23V283.6H1521.79V281.3H1522.36V281.3H1522.92V281.3H1523.48V286.0H1524.04V286.6H1524.60V288.8H1525.16V289.2H1525.72V290.3H1526.28V290.7H1526.84V291.6H1527.40V292.1H1527.96V293.0H1528.52V292.9H1529.08V293.5H1529.64V293.2H1530.20V293.7H1530.76V293.8H1531.32V294.1H1531.88V294.0H1532.44V294.3H1533.00V294.3H1533.56V294.8H1534.12V294.5H1534.68V294.7H1535.24V294.5H1535.80V294.8H1536.36V294.6H1536.92V294.7H1537.48V294.6H1538.04V294.9H1538.60V294.6H1539.16V294.9H1539.72V294.7H1540.28V294.9H1540.84V294.7H1541.40V294.9H1541.96V294.8H1542.52V294.9H1543.08V294.8H1543.64V295.0H1544.20V294.8H1544.76V295.1H1545.32V294.9H1545.88V295.0H1546.44V294.9H1547.00V295.1H1547.56V295.1H1548.12V295.2H1548.68V295.0H1549.24V295.2H1549.80V295.1H1550.36V295.2H1550.93V295.2H1551.49V295.3H1552.05V295.2H1552.61V295.4H1553.17V295.3H1553.73V295.4H1554.29V295.3H1554.85V295.5H1555.41V295.4H1555.97V295.6H1556.53V295.4H1557.09V295.6H1557.65V295.5H1558.21V295.7H1558.77V295.5H1559.33V295.7H1559.89V295.6H1560.45V295.7H1561.01V295.7H1561.57V295.8H1562.13V295.7H1562.69V295.9H1563.25V295.8H1563.81V295.9H1564.37V295.8H1564.93V295.9H1565.49V295.9H1566.05V296.0H1566.61V296.1H1567.17V296.1H1567.73V296.0H1568.29V296.1H1568.85V296.1H1569.41V296.3H1569.97V296.2H1570.53V296.3H1571.09V296.3H1571.65V296.4H1572.21V296.3H1572.77V296.4H1573.33V296.4H1573.89V296.5H1574.45V296.6H1575.01V296.6H1575.57V296.6H1576.13V296.7H1576.69V296.7H1577.25V296.8H1577.81V296.8H1578.37V296.9H1578.93V296.8H1579.50V296.9H1580.06V296.9H1580.62V297.0H1581.18V297.0H1581.74V297.1H1582.30V297.1H1582.86V297.1H1583.42V297.1H1583.98V297.1H1584.54V297.2H1585.10V297.2H1585.66V297.2H1586.22V297.2H1586.78V297.2H1587.34V297.3H1587.90V297.3H1588.46V297.3H1589.02V297.3H1589.58V297.3H1590.14V297.4H1590.70V297.4H1591.26V297.4H1591.82V297.4H1592.38V297.4H1592.94V297.4H1593.50V297.70Z" fill="#f8bcb1" stroke="#ec8c66" stroke-width="1.1" stroke-linejoin="miter"/></g>
<rect x="1306.8" y="72.9" width="287.50" height="224.80" fill="none" stroke="#383838" stroke-width="1.5"/>
<line x1="1306.1" y1="297.7" x2="1595.0" y2="297.7" stroke="#383838" stroke-width="1.9"/>
<line x1="1308.0" y1="268.3" x2="1308.0" y2="297.2" stroke="#cf6d49" stroke-width="1.7"/>
<path d="M1348.30,297.7v16.6M1418.60,297.7v16.6M1491.80,297.7v16.6M1562.70,297.7v16.6M1310.93,297.7v9.2M1319.86,297.7v9.2M1326.79,297.7v9.2M1332.45,297.7v9.2M1337.23,297.7v9.2M1341.37,297.7v9.2M1345.03,297.7v9.2M1369.46,297.7v9.2M1381.84,297.7v9.2M1390.62,297.7v9.2M1397.44,297.7v9.2M1403.00,297.7v9.2M1407.71,297.7v9.2M1411.79,297.7v9.2M1415.38,297.7v9.2M1440.64,297.7v9.2M1453.53,297.7v9.2M1462.67,297.7v9.2M1469.76,297.7v9.2M1475.56,297.7v9.2M1480.46,297.7v9.2M1484.71,297.7v9.2M1488.45,297.7v9.2M1513.14,297.7v9.2M1525.63,297.7v9.2M1534.49,297.7v9.2M1541.36,297.7v9.2M1546.97,297.7v9.2M1551.72,297.7v9.2M1555.83,297.7v9.2M1559.46,297.7v9.2M1584.21,297.7v9.2" stroke="#1c1c1c" stroke-width="1.8" fill="none"/>
</g>
<path d="M194.3,467.49V655" fill="none" stroke="#0d0d0d" stroke-width="2.7"/>
<path d="M185,646.25H497.4" fill="none" stroke="#0d0d0d" stroke-width="2.7"/>
<path d="M185,468.74H194.3" stroke="#0d0d0d" stroke-width="2.7"/>
<path d="M185,527.91H194.3" stroke="#0d0d0d" stroke-width="2.7"/>
<path d="M185,587.08H194.3" stroke="#0d0d0d" stroke-width="2.7"/>
<path d="M315.4,646.25V655" stroke="#0d0d0d" stroke-width="2.7"/>
<path d="M436.9,646.25V655" stroke="#0d0d0d" stroke-width="2.7"/>
<path d="M218.1,532.6V599.3M211.7,532.6h12.8M211.7,599.3h12.8" stroke="#0d0d0d" stroke-width="2.2" fill="none"/>
<path d="M278.8,527.7V580.6M272.40000000000003,527.7h12.8M272.40000000000003,580.6h12.8" stroke="#0d0d0d" stroke-width="2.2" fill="none"/>
<path d="M399.8,524.9V539.7M393.40000000000003,524.9h12.8M393.40000000000003,539.7h12.8" stroke="#0d0d0d" stroke-width="2.2" fill="none"/>
<polyline points="218.1,566.2 278.8,554.2 338.9,532.9 399.8,531.6 460.4,530.3" fill="none" stroke="#0d0d0d" stroke-width="6.3" stroke-linejoin="round"/>
<path d="M207.29999999999998,566.2L218.1,555.4000000000001L228.9,566.2L218.1,577.0Z" fill="#0d0d0d"/>
<path d="M268.0,554.2L278.8,543.4000000000001L289.6,554.2L278.8,565.0Z" fill="#0d0d0d"/>
<path d="M328.09999999999997,532.9L338.9,522.1L349.7,532.9L338.9,543.6999999999999Z" fill="#0d0d0d"/>
<path d="M389.0,531.6L399.8,520.8000000000001L410.6,531.6L399.8,542.4Z" fill="#0d0d0d"/>
<path d="M449.59999999999997,530.3L460.4,519.5L471.2,530.3L460.4,541.0999999999999Z" fill="#0d0d0d"/>
<text transform="translate(4.33,41.70) scale(0.9281,1)" font-size="52.29" fill="#000" stroke="#000" stroke-width="0.9" stroke-linejoin="round" font-weight="bold">A</text>
<text transform="translate(4.84,453.50) scale(0.8161,1)" font-size="54.35" fill="#000" stroke="#000" stroke-width="0.9" stroke-linejoin="round" font-weight="bold">B</text>
<text transform="translate(118.13,58.10) scale(1.1400,1)" font-size="27.57" fill="#0d0d0d" letter-spacing="0.139" stroke="#0d0d0d" stroke-width="0.45" stroke-linejoin="round">2.5</text>
<text transform="translate(170.31,58.10) scale(1.1400,1)" font-size="27.57" fill="#0d0d0d" letter-spacing="1.882" stroke="#0d0d0d" stroke-width="0.55" stroke-linejoin="round">ng/ml</text>
<text transform="translate(274.80,58.10) scale(0.9090,1)" font-size="29.57" fill="#0d0d0d" stroke="#0d0d0d" stroke-width="0.7" stroke-linejoin="round">ATC</text>
<text transform="translate(435.93,58.10) scale(1.1400,1)" font-size="27.57" fill="#0d0d0d" letter-spacing="0.042" stroke="#0d0d0d" stroke-width="0.45" stroke-linejoin="round">25</text>
<text transform="translate(478.81,58.10) scale(1.1400,1)" font-size="27.57" fill="#0d0d0d" letter-spacing="2.080" stroke="#0d0d0d" stroke-width="0.55" stroke-linejoin="round">ng/ml</text>
<text transform="translate(583.20,58.10) scale(0.9287,1)" font-size="29.57" fill="#0d0d0d" stroke="#0d0d0d" stroke-width="0.7" stroke-linejoin="round">ATC</text>
<text transform="translate(729.93,58.10) scale(1.1400,1)" font-size="27.57" fill="#0d0d0d" letter-spacing="0.600" stroke="#0d0d0d" stroke-width="0.45" stroke-linejoin="round">250</text>
<text transform="translate(791.91,58.10) scale(1.1400,1)" font-size="27.57" fill="#0d0d0d" letter-spacing="2.168" stroke="#0d0d0d" stroke-width="0.55" stroke-linejoin="round">ng/ml</text>
<text transform="translate(896.30,58.10) scale(0.9287,1)" font-size="29.57" fill="#0d0d0d" stroke="#0d0d0d" stroke-width="0.7" stroke-linejoin="round">ATC</text>
<text transform="translate(1026.23,58.10) scale(1.1400,1)" font-size="27.57" fill="#0d0d0d" letter-spacing="0.465" stroke="#0d0d0d" stroke-width="0.45" stroke-linejoin="round">2500</text>
<text transform="translate(1105.41,58.10) scale(1.1400,1)" font-size="27.57" fill="#0d0d0d" letter-spacing="2.124" stroke="#0d0d0d" stroke-width="0.55" stroke-linejoin="round">ng/ml</text>
<text transform="translate(1210.00,58.10) scale(0.9180,1)" font-size="29.57" fill="#0d0d0d" stroke="#0d0d0d" stroke-width="0.7" stroke-linejoin="round">ATC</text>
<text transform="translate(1318.73,58.10) scale(1.1400,1)" font-size="27.57" fill="#0d0d0d" letter-spacing="0.042" stroke="#0d0d0d" stroke-width="0.45" stroke-linejoin="round">25</text>
<text transform="translate(1364.76,58.10) scale(1.1400,1)" font-size="27.57" fill="#0d0d0d" letter-spacing="0.412" stroke="#0d0d0d" stroke-width="0.45" stroke-linejoin="round">000</text>
<text transform="translate(1426.71,58.10) scale(1.1400,1)" font-size="27.57" fill="#0d0d0d" letter-spacing="2.168" stroke="#0d0d0d" stroke-width="0.55" stroke-linejoin="round">ng/ml</text>
<text transform="translate(1531.10,58.10) scale(0.9108,1)" font-size="29.57" fill="#0d0d0d" stroke="#0d0d0d" stroke-width="0.7" stroke-linejoin="round">ATC</text>
<text transform="translate(102.79,350.60) scale(0.9588,1)" font-size="32.86" fill="#0d0d0d" stroke="#0d0d0d" stroke-width="0.45" stroke-linejoin="round">10</text>
<text transform="translate(139.28,338.10) scale(0.9110,1)" font-size="22.43" fill="#0d0d0d" stroke="#0d0d0d" stroke-width="0.4" stroke-linejoin="round">2</text>
<text transform="translate(177.79,350.60) scale(0.9588,1)" font-size="32.86" fill="#0d0d0d" stroke="#0d0d0d" stroke-width="0.45" stroke-linejoin="round">10</text>
<text transform="translate(214.69,338.10) scale(0.9099,1)" font-size="22.43" fill="#0d0d0d" stroke="#0d0d0d" stroke-width="0.4" stroke-linejoin="round">3</text>
<text transform="translate(251.72,350.60) scale(0.9497,1)" font-size="32.86" fill="#0d0d0d" stroke="#0d0d0d" stroke-width="0.45" stroke-linejoin="round">10</text>
<text transform="translate(286.08,338.10) scale(1.1539,1)" font-size="22.43" fill="#0d0d0d" stroke="#0d0d0d" stroke-width="0.4" stroke-linejoin="round">4</text>
<text transform="translate(317.42,350.60) scale(0.9497,1)" font-size="32.86" fill="#0d0d0d" stroke="#0d0d0d" stroke-width="0.45" stroke-linejoin="round">10</text>
<text transform="translate(353.34,338.10) scale(0.9567,1)" font-size="22.43" fill="#0d0d0d" stroke="#0d0d0d" stroke-width="0.4" stroke-linejoin="round">5</text>
<text transform="translate(159.10,392.10) scale(1.0790,1)" font-size="30.96" fill="#0d0d0d" stroke="#0d0d0d" stroke-width="0.4" stroke-linejoin="round">log</text>
<text transform="translate(212.09,392.10) scale(0.9409,1)" font-size="30.72" fill="#0d0d0d" stroke="#0d0d0d" stroke-width="0.4" stroke-linejoin="round">FITC-A</text>
<text transform="translate(408.09,350.60) scale(0.9588,1)" font-size="32.86" fill="#0d0d0d" stroke="#0d0d0d" stroke-width="0.45" stroke-linejoin="round">10</text>
<text transform="translate(444.58,338.10) scale(0.9110,1)" font-size="22.43" fill="#0d0d0d" stroke="#0d0d0d" stroke-width="0.4" stroke-linejoin="round">2</text>
<text transform="translate(483.09,350.60) scale(0.9588,1)" font-size="32.86" fill="#0d0d0d" stroke="#0d0d0d" stroke-width="0.45" stroke-linejoin="round">10</text>
<text transform="translate(519.99,338.10) scale(0.9099,1)" font-size="22.43" fill="#0d0d0d" stroke="#0d0d0d" stroke-width="0.4" stroke-linejoin="round">3</text>
<text transform="translate(557.02,350.60) scale(0.9497,1)" font-size="32.86" fill="#0d0d0d" stroke="#0d0d0d" stroke-width="0.45" stroke-linejoin="round">10</text>
<text transform="translate(591.38,338.10) scale(1.1539,1)" font-size="22.43" fill="#0d0d0d" stroke="#0d0d0d" stroke-width="0.4" stroke-linejoin="round">4</text>
<text transform="translate(622.72,350.60) scale(0.9497,1)" font-size="32.86" fill="#0d0d0d" stroke="#0d0d0d" stroke-width="0.45" stroke-linejoin="round">10</text>
<text transform="translate(658.64,338.10) scale(0.9567,1)" font-size="22.43" fill="#0d0d0d" stroke="#0d0d0d" stroke-width="0.4" stroke-linejoin="round">5</text>
<text transform="translate(464.40,392.10) scale(1.0790,1)" font-size="30.96" fill="#0d0d0d" stroke="#0d0d0d" stroke-width="0.4" stroke-linejoin="round">log</text>
<text transform="translate(517.39,392.10) scale(0.9409,1)" font-size="30.72" fill="#0d0d0d" stroke="#0d0d0d" stroke-width="0.4" stroke-linejoin="round">FITC-A</text>
<text transform="translate(715.19,350.60) scale(0.9588,1)" font-size="32.86" fill="#0d0d0d" stroke="#0d0d0d" stroke-width="0.45" stroke-linejoin="round">10</text>
<text transform="translate(751.68,338.10) scale(0.9110,1)" font-size="22.43" fill="#0d0d0d" stroke="#0d0d0d" stroke-width="0.4" stroke-linejoin="round">2</text>
<text transform="translate(790.19,350.60) scale(0.9588,1)" font-size="32.86" fill="#0d0d0d" stroke="#0d0d0d" stroke-width="0.45" stroke-linejoin="round">10</text>
<text transform="translate(827.09,338.10) scale(0.9099,1)" font-size="22.43" fill="#0d0d0d" stroke="#0d0d0d" stroke-width="0.4" stroke-linejoin="round">3</text>
<text transform="translate(864.12,350.60) scale(0.9497,1)" font-size="32.86" fill="#0d0d0d" stroke="#0d0d0d" stroke-width="0.45" stroke-linejoin="round">10</text>
<text transform="translate(898.48,338.10) scale(1.1539,1)" font-size="22.43" fill="#0d0d0d" stroke="#0d0d0d" stroke-width="0.4" stroke-linejoin="round">4</text>
<text transform="translate(929.82,350.60) scale(0.9497,1)" font-size="32.86" fill="#0d0d0d" stroke="#0d0d0d" stroke-width="0.45" stroke-linejoin="round">10</text>
<text transform="translate(965.74,338.10) scale(0.9567,1)" font-size="22.43" fill="#0d0d0d" stroke="#0d0d0d" stroke-width="0.4" stroke-linejoin="round">5</text>
<text transform="translate(771.50,392.10) scale(1.0790,1)" font-size="30.96" fill="#0d0d0d" stroke="#0d0d0d" stroke-width="0.4" stroke-linejoin="round">log</text>
<text transform="translate(824.49,392.10) scale(0.9409,1)" font-size="30.72" fill="#0d0d0d" stroke="#0d0d0d" stroke-width="0.4" stroke-linejoin="round">FITC-A</text>
<text transform="translate(1022.49,350.60) scale(0.9588,1)" font-size="32.86" fill="#0d0d0d" stroke="#0d0d0d" stroke-width="0.45" stroke-linejoin="round">10</text>
<text transform="translate(1058.98,338.10) scale(0.9110,1)" font-size="22.43" fill="#0d0d0d" stroke="#0d0d0d" stroke-width="0.4" stroke-linejoin="round">2</text>
<text transform="translate(1097.49,350.60) scale(0.9588,1)" font-size="32.86" fill="#0d0d0d" stroke="#0d0d0d" stroke-width="0.45" stroke-linejoin="round">10</text>
<text transform="translate(1134.39,338.10) scale(0.9099,1)" font-size="22.43" fill="#0d0d0d" stroke="#0d0d0d" stroke-width="0.4" stroke-linejoin="round">3</text>
<text transform="translate(1171.42,350.60) scale(0.9497,1)" font-size="32.86" fill="#0d0d0d" stroke="#0d0d0d" stroke-width="0.45" stroke-linejoin="round">10</text>
<text transform="translate(1205.78,338.10) scale(1.1539,1)" font-size="22.43" fill="#0d0d0d" stroke="#0d0d0d" stroke-width="0.4" stroke-linejoin="round">4</text>
<text transform="translate(1237.12,350.60) scale(0.9497,1)" font-size="32.86" fill="#0d0d0d" stroke="#0d0d0d" stroke-width="0.45" stroke-linejoin="round">10</text>
<text transform="translate(1273.04,338.10) scale(0.9567,1)" font-size="22.43" fill="#0d0d0d" stroke="#0d0d0d" stroke-width="0.4" stroke-linejoin="round">5</text>
<text transform="translate(1078.80,392.10) scale(1.0790,1)" font-size="30.96" fill="#0d0d0d" stroke="#0d0d0d" stroke-width="0.4" stroke-linejoin="round">log</text>
<text transform="translate(1131.79,392.10) scale(0.9409,1)" font-size="30.72" fill="#0d0d0d" stroke="#0d0d0d" stroke-width="0.4" stroke-linejoin="round">FITC-A</text>
<text transform="translate(1329.39,350.60) scale(0.9588,1)" font-size="32.86" fill="#0d0d0d" stroke="#0d0d0d" stroke-width="0.45" stroke-linejoin="round">10</text>
<text transform="translate(1365.88,338.10) scale(0.9110,1)" font-size="22.43" fill="#0d0d0d" stroke="#0d0d0d" stroke-width="0.4" stroke-linejoin="round">2</text>
<text transform="translate(1404.39,350.60) scale(0.9588,1)" font-size="32.86" fill="#0d0d0d" stroke="#0d0d0d" stroke-width="0.45" stroke-linejoin="round">10</text>
<text transform="translate(1441.29,338.10) scale(0.9099,1)" font-size="22.43" fill="#0d0d0d" stroke="#0d0d0d" stroke-width="0.4" stroke-linejoin="round">3</text>
<text transform="translate(1478.32,350.60) scale(0.9497,1)" font-size="32.86" fill="#0d0d0d" stroke="#0d0d0d" stroke-width="0.45" stroke-linejoin="round">10</text>
<text transform="translate(1512.68,338.10) scale(1.1539,1)" font-size="22.43" fill="#0d0d0d" stroke="#0d0d0d" stroke-width="0.4" stroke-linejoin="round">4</text>
<text transform="translate(1544.02,350.60) scale(0.9497,1)" font-size="32.86" fill="#0d0d0d" stroke="#0d0d0d" stroke-width="0.45" stroke-linejoin="round">10</text>
<text transform="translate(1579.94,338.10) scale(0.9567,1)" font-size="22.43" fill="#0d0d0d" stroke="#0d0d0d" stroke-width="0.4" stroke-linejoin="round">5</text>
<text transform="translate(1385.70,392.10) scale(1.0790,1)" font-size="30.96" fill="#0d0d0d" stroke="#0d0d0d" stroke-width="0.4" stroke-linejoin="round">log</text>
<text transform="translate(1438.69,392.10) scale(0.9409,1)" font-size="30.72" fill="#0d0d0d" stroke="#0d0d0d" stroke-width="0.4" stroke-linejoin="round">FITC-A</text>
<text transform="translate(74.30,227.60) rotate(-90) translate(-1.82,0.00) scale(0.9839,1)" font-size="37.0" fill="#0d0d0d" stroke="#0d0d0d" stroke-width="0.05" stroke-linejoin="round">Count</text>
<text transform="translate(119.63,537.40) scale(1.0039,1)" font-size="30.86" fill="#0d0d0d" stroke="#0d0d0d" stroke-width="0.2" stroke-linejoin="round">100</text>
<text transform="translate(138.01,656.00) scale(0.9768,1)" font-size="30.43" fill="#0d0d0d" stroke="#0d0d0d" stroke-width="0.2" stroke-linejoin="round">50</text>
<text transform="translate(187.09,694.50) scale(0.9004,1)" font-size="30.29" fill="#0d0d0d" stroke="#0d0d0d" stroke-width="0.2" stroke-linejoin="round">1</text>
<text transform="translate(290.99,694.50) scale(0.9974,1)" font-size="30.29" fill="#0d0d0d" stroke="#0d0d0d" stroke-width="0.2" stroke-linejoin="round">100</text>
<text transform="translate(395.83,694.50) scale(0.9286,1)" font-size="30.29" fill="#0d0d0d" stroke="#0d0d0d" stroke-width="0.2" stroke-linejoin="round">10</text>
<text transform="translate(441.18,694.50) scale(1.0096,1)" font-size="30.29" fill="#0d0d0d" stroke="#0d0d0d" stroke-width="0.2" stroke-linejoin="round">000</text>
<text transform="translate(218.38,734.25) scale(1.1072,1)" font-size="33.36" fill="#0d0d0d" stroke="#0d0d0d" stroke-width="0.4" stroke-linejoin="round">log</text>
<text transform="translate(274.40,734.25) scale(0.8993,1)" font-size="33.36" fill="#0d0d0d" stroke="#0d0d0d" stroke-width="0.4" stroke-linejoin="round" font-style="italic">c</text>
<text transform="translate(289.30,740.40) scale(0.9916,1)" font-size="22.9" fill="#0d0d0d" stroke="#0d0d0d" stroke-width="0.3" stroke-linejoin="round">ATC</text>
<text transform="translate(345.82,734.25) scale(1.1377,1)" font-size="33.36" fill="#0d0d0d" stroke="#0d0d0d" stroke-width="0.4" stroke-linejoin="round">(ng/ml)</text>
<text transform="translate(96.25,687.75) rotate(-90) translate(-0.87,0.00) scale(0.8443,1)" font-size="34.25" fill="#0d0d0d" stroke="#0d0d0d" stroke-width="0.4" stroke-linejoin="round">%</text>
<text transform="translate(96.25,648.75) rotate(-90) translate(-2.13,0.00) scale(1.0365,1)" font-size="34.25" fill="#0d0d0d" stroke="#0d0d0d" stroke-width="0.4" stroke-linejoin="round">pos.</text>
<text transform="translate(96.25,573.75) rotate(-90) translate(-1.43,0.00) scale(1.0445,1)" font-size="34.25" fill="#0d0d0d" stroke="#0d0d0d" stroke-width="0.4" stroke-linejoin="round">colonies</text>
</svg>
</body></html>
